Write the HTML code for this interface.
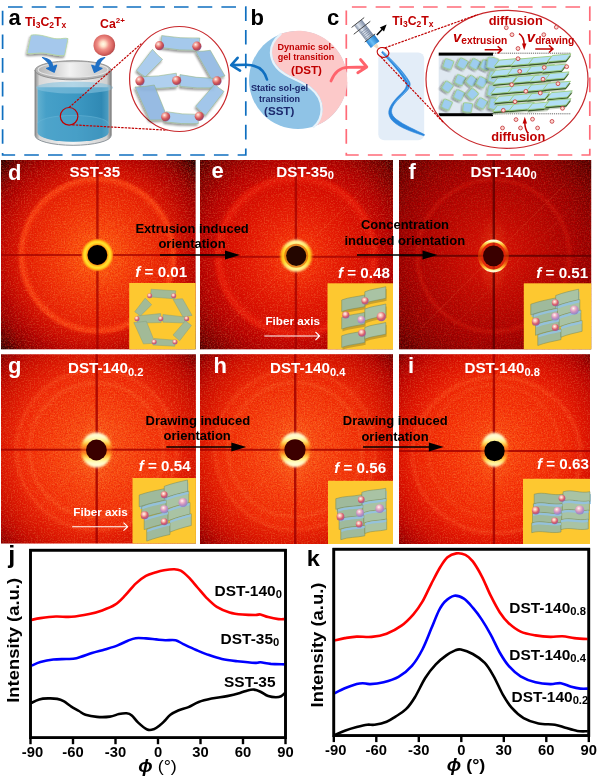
<!DOCTYPE html>
<html lang="en"><head><meta charset="utf-8"><title>Figure</title>
<style>html,body{margin:0;padding:0;background:#fff}body{width:600px;height:777px;overflow:hidden}svg{display:block}text{font-family:"Liberation Sans", Arial, Helvetica, sans-serif;font-weight:bold}</style>
</head><body>
<svg width="600" height="777" viewBox="0 0 600 777">
<defs>
<radialGradient id="gd" gradientUnits="userSpaceOnUse" cx="97.4" cy="255.0" r="140.0"><stop offset="0.000" stop-color="#ff6210"/><stop offset="0.129" stop-color="#fc560e"/><stop offset="0.250" stop-color="#f6420a"/><stop offset="0.393" stop-color="#ee3006"/><stop offset="0.500" stop-color="#e62404"/><stop offset="0.529" stop-color="#f2340a"/><stop offset="0.550" stop-color="#f4380c"/><stop offset="0.575" stop-color="#d41402"/><stop offset="0.643" stop-color="#c40c00"/><stop offset="0.714" stop-color="#b00400"/><stop offset="0.786" stop-color="#980000"/><stop offset="0.857" stop-color="#740000"/><stop offset="0.914" stop-color="#480000"/><stop offset="0.971" stop-color="#140000"/></radialGradient>
<radialGradient id="ge" gradientUnits="userSpaceOnUse" cx="296.2" cy="255.8" r="140.0"><stop offset="0.000" stop-color="#fa420c"/><stop offset="0.129" stop-color="#f43408"/><stop offset="0.250" stop-color="#ea2406"/><stop offset="0.393" stop-color="#de1602"/><stop offset="0.500" stop-color="#d40e00"/><stop offset="0.543" stop-color="#e01606"/><stop offset="0.571" stop-color="#dc1204"/><stop offset="0.600" stop-color="#c00600"/><stop offset="0.679" stop-color="#b00200"/><stop offset="0.750" stop-color="#9c0000"/><stop offset="0.821" stop-color="#840000"/><stop offset="0.893" stop-color="#680000"/><stop offset="0.971" stop-color="#3c0000"/></radialGradient>
<radialGradient id="gf" gradientUnits="userSpaceOnUse" cx="493.4" cy="255.8" r="140.0"><stop offset="0.000" stop-color="#d81806"/><stop offset="0.129" stop-color="#cc1004"/><stop offset="0.286" stop-color="#bc0a02"/><stop offset="0.429" stop-color="#ae0600"/><stop offset="0.557" stop-color="#a20200"/><stop offset="0.679" stop-color="#900000"/><stop offset="0.786" stop-color="#7c0000"/><stop offset="0.886" stop-color="#600000"/><stop offset="0.986" stop-color="#400000"/></radialGradient>
<radialGradient id="gg" gradientUnits="userSpaceOnUse" cx="96.4" cy="450.0" r="140.0"><stop offset="0.000" stop-color="#fc5e18"/><stop offset="0.129" stop-color="#fa5414"/><stop offset="0.286" stop-color="#f8460e"/><stop offset="0.443" stop-color="#f4380a"/><stop offset="0.543" stop-color="#f02e08"/><stop offset="0.586" stop-color="#e82606"/><stop offset="0.643" stop-color="#e01e04"/><stop offset="0.700" stop-color="#d61802"/><stop offset="0.771" stop-color="#c81000"/><stop offset="0.843" stop-color="#b40800"/><stop offset="0.914" stop-color="#940200"/><stop offset="0.986" stop-color="#640000"/></radialGradient>
<radialGradient id="gh" gradientUnits="userSpaceOnUse" cx="295.0" cy="449.8" r="140.0"><stop offset="0.000" stop-color="#fc5e18"/><stop offset="0.129" stop-color="#fa5414"/><stop offset="0.286" stop-color="#f8440e"/><stop offset="0.443" stop-color="#f23608"/><stop offset="0.543" stop-color="#ee2c06"/><stop offset="0.586" stop-color="#e62404"/><stop offset="0.643" stop-color="#de1c02"/><stop offset="0.700" stop-color="#d41600"/><stop offset="0.771" stop-color="#c60e00"/><stop offset="0.843" stop-color="#b00600"/><stop offset="0.914" stop-color="#900000"/><stop offset="0.986" stop-color="#600000"/></radialGradient>
<radialGradient id="gi" gradientUnits="userSpaceOnUse" cx="494.5" cy="451.0" r="140.0"><stop offset="0.000" stop-color="#fc5410"/><stop offset="0.129" stop-color="#fa4a0e"/><stop offset="0.286" stop-color="#f83c0a"/><stop offset="0.443" stop-color="#f23006"/><stop offset="0.543" stop-color="#ee2804"/><stop offset="0.586" stop-color="#e82004"/><stop offset="0.643" stop-color="#e01802"/><stop offset="0.700" stop-color="#d61200"/><stop offset="0.771" stop-color="#c80c00"/><stop offset="0.843" stop-color="#b40400"/><stop offset="0.914" stop-color="#940000"/><stop offset="0.986" stop-color="#640000"/></radialGradient>
<radialGradient id="halo"><stop offset="0.56" stop-color="#e86008"/><stop offset="0.64" stop-color="#ffb818"/><stop offset="0.74" stop-color="#ffe030"/><stop offset="0.82" stop-color="#ffd420"/><stop offset="0.91" stop-color="#ff9c14" stop-opacity="0.85"/><stop offset="1" stop-color="#ff6a10" stop-opacity="0"/></radialGradient>
<radialGradient id="halo2"><stop offset="0.55" stop-color="#ff9a10"/><stop offset="0.75" stop-color="#ffa818" stop-opacity="0.85"/><stop offset="1" stop-color="#ff5000" stop-opacity="0"/></radialGradient>
<linearGradient id="hv" x1="0" x2="0" y1="0" y2="1"><stop offset="0" stop-color="#fffbd8"/><stop offset="0.14" stop-color="#fffcc8"/><stop offset="0.24" stop-color="#fff080"/><stop offset="0.34" stop-color="#ffb830"/><stop offset="0.44" stop-color="#ff9020" stop-opacity="0.55"/><stop offset="0.5" stop-color="#ff8a18" stop-opacity="0.28"/><stop offset="0.56" stop-color="#ff9020" stop-opacity="0.55"/><stop offset="0.66" stop-color="#ffb830"/><stop offset="0.76" stop-color="#fff080"/><stop offset="0.86" stop-color="#fffcc8"/><stop offset="1" stop-color="#fffbd8"/></linearGradient>
<linearGradient id="hvi" x1="0" x2="0" y1="0" y2="1"><stop offset="0" stop-color="#fffbd8"/><stop offset="0.16" stop-color="#fffcc8"/><stop offset="0.26" stop-color="#fff080"/><stop offset="0.36" stop-color="#ffb830"/><stop offset="0.46" stop-color="#ff9020" stop-opacity="0.5"/><stop offset="0.55" stop-color="#ff8a18" stop-opacity="0.35"/><stop offset="0.66" stop-color="#ff9a20" stop-opacity="0.6"/><stop offset="0.76" stop-color="#ffc838"/><stop offset="0.87" stop-color="#fff290"/><stop offset="1" stop-color="#fffad0"/></linearGradient>
<linearGradient id="hvf" x1="0" x2="0" y1="0" y2="1"><stop offset="0" stop-color="#fffad0"/><stop offset="0.05" stop-color="#ffe870"/><stop offset="0.14" stop-color="#ffa828"/><stop offset="0.26" stop-color="#f06a12" stop-opacity="0.8"/><stop offset="0.4" stop-color="#e04808" stop-opacity="0.55"/><stop offset="0.6" stop-color="#e04808" stop-opacity="0.55"/><stop offset="0.74" stop-color="#f06a12" stop-opacity="0.8"/><stop offset="0.86" stop-color="#ffa828"/><stop offset="0.95" stop-color="#ffe870"/><stop offset="1" stop-color="#fffad0"/></linearGradient>
<radialGradient id="plume"><stop offset="0" stop-color="#ffa040" stop-opacity="0.55"/><stop offset="0.45" stop-color="#ff8030" stop-opacity="0.28"/><stop offset="1" stop-color="#ff7020" stop-opacity="0"/></radialGradient>
<linearGradient id="hve" x1="0" x2="0" y1="0" y2="1"><stop offset="0" stop-color="#fff8a8"/><stop offset="0.16" stop-color="#fff078"/><stop offset="0.3" stop-color="#ffd828"/><stop offset="0.5" stop-color="#ffc218"/><stop offset="0.7" stop-color="#ffd828"/><stop offset="0.84" stop-color="#fff078"/><stop offset="1" stop-color="#fff8a8"/></linearGradient>
<radialGradient id="blob"><stop offset="0" stop-color="#fffbe0"/><stop offset="0.45" stop-color="#fff080" stop-opacity="0.95"/><stop offset="0.8" stop-color="#ffc020" stop-opacity="0.6"/><stop offset="1" stop-color="#ff8000" stop-opacity="0"/></radialGradient>
<radialGradient id="sph" cx="0.4" cy="0.34" r="0.7"><stop offset="0" stop-color="#fffaf0"/><stop offset="0.3" stop-color="#f8b8b0"/><stop offset="0.62" stop-color="#d8606c"/><stop offset="0.85" stop-color="#b05a88"/><stop offset="1" stop-color="#8a6ab0"/></radialGradient>
<radialGradient id="sphb" cx="0.4" cy="0.32" r="0.7"><stop offset="0" stop-color="#fffafa"/><stop offset="0.3" stop-color="#f0b8c8"/><stop offset="0.6" stop-color="#c890c0"/><stop offset="1" stop-color="#8888c8"/></radialGradient>
<filter id="noise" x="0" y="0" width="100%" height="100%"><feTurbulence type="fractalNoise" baseFrequency="0.75" numOctaves="2" seed="3" result="n"/><feColorMatrix type="matrix" values="0 0 0 0 0.75  0 0 0 0 0  0 0 0 0 0  3.2 0 0 0 -1.3"/></filter>
<filter id="noise2" x="0" y="0" width="100%" height="100%"><feTurbulence type="fractalNoise" baseFrequency="0.7" numOctaves="2" seed="11" result="n"/><feColorMatrix type="matrix" values="0 0 0 0 1  0 0 0 0 0.62  0 0 0 0 0.2  3.2 0 0 0 -1.45"/></filter>
<filter id="blur05"><feGaussianBlur stdDeviation="0.5"/></filter>
<filter id="blur3" x="-20%" y="-20%" width="140%" height="140%"><feGaussianBlur stdDeviation="3"/></filter>
<filter id="blur1"><feGaussianBlur stdDeviation="0.8"/></filter>
<filter id="blur2"><feGaussianBlur stdDeviation="1.6"/></filter>
<filter id="sh" x="-20%" y="-20%" width="150%" height="150%"><feGaussianBlur in="SourceAlpha" stdDeviation="1.2"/><feOffset dx="-1.2" dy="1.5"/><feComponentTransfer><feFuncA type="linear" slope="0.45"/></feComponentTransfer><feMerge><feMergeNode/><feMergeNode in="SourceGraphic"/></feMerge></filter>
</defs>
<rect width="600" height="777" fill="#fff"/>
<rect x="2.6" y="7" width="243.2" height="148" fill="none" stroke="#0f6fc0" stroke-width="1.7" stroke-dasharray="14.6 9.11" stroke-dashoffset="-5.4"/>
<rect x="346.3" y="7" width="243.5" height="148" fill="none" stroke="#ff6b78" stroke-width="1.7" stroke-dasharray="14.6 9.13" stroke-dashoffset="-5.6"/>
<text x="8.5" y="25.0" font-size="22.0" fill="#000" text-anchor="start" >a</text>
<text x="250.5" y="24.5" font-size="22.0" fill="#000" text-anchor="start" >b</text>
<text x="327.0" y="25.0" font-size="22.0" fill="#000" text-anchor="start" >c</text>
<text x="25.0" y="25.6" font-size="12.3" fill="#c00000" text-anchor="start" >Ti<tspan font-size="8.5" dy="2.2">3</tspan><tspan dy="-2.2">C</tspan><tspan font-size="8.5" dy="2.2">2</tspan><tspan dy="-2.2">T</tspan><tspan font-size="8.5" dy="2.2">x</tspan></text>
<text x="392.2" y="24.7" font-size="12.3" fill="#c00000" text-anchor="start" >Ti<tspan font-size="8.5" dy="2.2">3</tspan><tspan dy="-2.2">C</tspan><tspan font-size="8.5" dy="2.2">2</tspan><tspan dy="-2.2">T</tspan><tspan font-size="8.5" dy="2.2">x</tspan></text>
<text x="100.0" y="27.5" font-size="12.3" fill="#c00000" text-anchor="start" >Ca<tspan font-size="8" dy="-4.5">2+</tspan></text>
<defs>
<linearGradient id="liq" x1="0" x2="1" y1="0" y2="0"><stop offset="0" stop-color="#62b0d0"/><stop offset="0.12" stop-color="#46a0c8"/><stop offset="0.55" stop-color="#3c98c2"/><stop offset="0.9" stop-color="#3089b4"/><stop offset="1" stop-color="#4e9ec2"/></linearGradient>
<linearGradient id="glass" x1="0" x2="1" y1="0" y2="0"><stop offset="0" stop-color="#8c8c8c"/><stop offset="0.06" stop-color="#d8d8d8"/><stop offset="0.5" stop-color="#f4f4f4"/><stop offset="0.94" stop-color="#d0d0d0"/><stop offset="1" stop-color="#808080"/></linearGradient>
<linearGradient id="rimin" x1="0" x2="1" y1="0" y2="0"><stop offset="0" stop-color="#b4b4b4"/><stop offset="0.45" stop-color="#f2f2f2"/><stop offset="1" stop-color="#c4c4c4"/></linearGradient>
<radialGradient id="ca" cx="0.45" cy="0.45" r="0.6"><stop offset="0" stop-color="#fffce8"/><stop offset="0.2" stop-color="#ffe0c8"/><stop offset="0.45" stop-color="#f09088"/><stop offset="0.75" stop-color="#d86460"/><stop offset="0.92" stop-color="#b84c4c"/><stop offset="1" stop-color="#8c3038"/></radialGradient>
<radialGradient id="ca2" cx="0.36" cy="0.32" r="0.72"><stop offset="0" stop-color="#fff4ec"/><stop offset="0.25" stop-color="#f4a8a0"/><stop offset="0.55" stop-color="#d85c5c"/><stop offset="0.82" stop-color="#b04458"/><stop offset="1" stop-color="#8468a0"/></radialGradient>
</defs>
<path d="M31 35.2C40 33.2 50 38.5 57 38.8C62 39 65 37.6 68 38.6L64.6 55.4C58 56.8 48 52.6 40 53C35 53.2 31 54.2 27 53.4Z" fill="#a5c8ec" stroke="#b4d69a" stroke-width="0.8" filter="url(#sh)"/>
<circle cx="104.3" cy="45.2" r="10.8" fill="url(#ca)"/>
<path d="M35 70V135.5A38.1 9.8 0 0 0 111.2 135.5V70Z" fill="url(#glass)"/>
<path d="M37.6 87.3V132.5A35.5 9.3 0 0 0 108.6 132.5V87.3Z" fill="url(#liq)"/>
<path d="M37.6 124A35.5 8.6 0 0 1 108.6 124V132.5A35.5 9.3 0 0 1 37.6 132.5Z" fill="#5cacd0" opacity="0.35"/>
<path d="M37.6 124A35.5 8.6 0 0 1 108.6 124" fill="none" stroke="#6cb8d8" stroke-width="0.7" opacity="0.7"/>
<ellipse cx="74.5" cy="87.6" rx="38.6" ry="6.0" fill="#86c2de" opacity="0.6"/>
<ellipse cx="73.1" cy="70.3" rx="38.1" ry="9.6" fill="#b4b4b4"/>
<ellipse cx="73.1" cy="70.3" rx="38.1" ry="9.6" fill="none" stroke="#8a8a8a" stroke-width="0.9"/>
<ellipse cx="73.1" cy="69.8" rx="35.0" ry="7.4" fill="url(#rimin)" stroke="#e4e4e4" stroke-width="1.1"/>
<path d="M35 70V135.5M111.2 70V135.5" stroke="#848484" stroke-width="0.9" fill="none"/>
<path d="M35 135.5A38.1 9.8 0 0 0 111.2 135.5" stroke="#8e969c" stroke-width="1" fill="none"/>
<path d="M42.5 57.6C49 58.5 52.5 62 52.6 66.5L56.6 65.2L54.2 72.2L46.6 68.4L50 67.3C49.6 63 46 60 42.5 57.6Z" fill="#1f70c6" stroke="#1f70c6" stroke-width="1.2" stroke-linejoin="round"/>
<path d="M104.8 57.6C98.5 58.5 96 62 95.8 66.5L91.8 65.2L94.4 72.4L102 68.4L98.6 67.3C99 63 101.5 60 104.8 57.6Z" fill="#1f70c6" stroke="#1f70c6" stroke-width="1.2" stroke-linejoin="round"/>
<circle cx="69.1" cy="116.3" r="8.8" fill="none" stroke="#c00000" stroke-width="1.2"/>
<path d="M69.1 107.5L141.3 43.6M72.3 124.8L167.5 130.2" fill="none" stroke="#c00000" stroke-width="1.2" stroke-dasharray="2.4 1.1"/>
<ellipse cx="179.4" cy="79" rx="49.8" ry="52.5" fill="#fff" stroke="#c8282c" stroke-width="1.2"/>
<path d="M161.7 35.6Q180.6 38.7 199.8 38.0L198.3 50.3Q179.4 50.8 160.8 47.5Z" fill="#9cc4ea" opacity="0.90" stroke="#8fb07a" stroke-width="0.6" filter="url(#sh)"/>
<path d="M152.5 49.3Q157.0 54.9 162.6 59.4L145.2 76.8Q140.5 74.0 136.4 70.4Z" fill="#a4c8ec" opacity="0.90" stroke="#8fb07a" stroke-width="0.6" filter="url(#sh)"/>
<path d="M195.6 51.2Q203.0 51.5 210.3 50.3L225.0 76.0Q218.2 78.0 211.2 78.7Z" fill="#90b8e2" opacity="0.90" stroke="#8fb07a" stroke-width="0.6" filter="url(#sh)"/>
<path d="M140.6 76.8Q158.6 76.8 176.3 73.2L177.3 87.0Q159.0 89.2 140.6 87.8Z" fill="#a8ccee" opacity="0.90" stroke="#8fb07a" stroke-width="0.6" filter="url(#sh)"/>
<path d="M180.0 74.6Q196.3 78.1 213.0 78.3L214.8 87.8Q197.3 88.8 180.0 86.4Z" fill="#9cc4ea" opacity="0.90" stroke="#8fb07a" stroke-width="0.6" filter="url(#sh)"/>
<path d="M135.0 87.0Q144.8 87.0 154.3 85.0L168.0 119.0Q159.0 120.4 149.8 120.0Z" fill="#8cb4e0" opacity="0.90" stroke="#8fb07a" stroke-width="0.6" filter="url(#sh)"/>
<path d="M214.8 84.2Q219.0 88.3 224.0 91.5L205.7 115.3Q200.2 111.3 195.6 106.2Z" fill="#98c0e8" opacity="0.90" stroke="#8fb07a" stroke-width="0.6" filter="url(#sh)"/>
<path d="M166.3 111.7Q182.2 114.7 198.3 114.4L198.3 123.6Q181.3 124.4 164.4 121.8Z" fill="#a4c8ec" opacity="0.90" stroke="#8fb07a" stroke-width="0.6" filter="url(#sh)"/>
<circle cx="159.5" cy="45.7" r="4.6" fill="url(#ca2)"/>
<circle cx="196.9" cy="46.2" r="4.6" fill="url(#ca2)"/>
<circle cx="140.0" cy="80.9" r="4.6" fill="url(#ca2)"/>
<circle cx="176.7" cy="80.5" r="4.6" fill="url(#ca2)"/>
<circle cx="217.0" cy="80.9" r="4.6" fill="url(#ca2)"/>
<circle cx="165.7" cy="116.8" r="4.6" fill="url(#ca2)"/>
<circle cx="199.3" cy="116.3" r="4.6" fill="url(#ca2)"/>
<circle cx="298" cy="80" r="49" fill="#8fc3e6"/>
<path d="M281.5 33.5C276 38 271.5 44 271.8 52C272.2 61 277.5 68.5 286 73.5C294 78.2 303 81 311 87C318 92.5 322.5 100 322.5 108.5C322.5 116 319.5 122 314.5 126.3A49 49 0 0 0 281.5 33.5Z" fill="#fcc9c9"/>
<path d="M281.5 33.5C276 38 271.5 44 271.8 52C272.2 61 277.5 68.5 286 73.5C294 78.2 303 81 311 87C318 92.5 322.5 100 322.5 108.5C322.5 116 319.5 122 314.5 126.3" fill="none" stroke="#e8f3fb" stroke-width="2.2" stroke-linecap="round" transform="translate(-0.9,0.7)"/>
<text x="305.8" y="49.6" font-size="9.1" fill="#c00000" text-anchor="middle" >Dynamic sol-</text>
<text x="306.0" y="60.0" font-size="9.0" fill="#c00000" text-anchor="middle" >gel transition</text>
<text x="306.5" y="74.0" font-size="11.6" fill="#c00000" text-anchor="middle" >(DST)</text>
<text x="279.5" y="91.0" font-size="9.2" fill="#1c2a6e" text-anchor="middle" >Static sol-gel</text>
<text x="279.5" y="101.6" font-size="9.0" fill="#1c2a6e" text-anchor="middle" >transition</text>
<text x="279.2" y="115.0" font-size="11.6" fill="#1c2a6e" text-anchor="middle" >(SST)</text>
<path d="M267 79.5C264.5 70 257 64.8 246 64.8L232 65.1M237.6 57.8L231.2 65.2L240 70.6" fill="none" stroke="#0f6fc0" stroke-width="2.6" stroke-linecap="round" stroke-linejoin="round"/>
<path d="M331 81C334.5 72 340 67.4 348 67.3L365.8 67M360.5 59.5L366.8 67L357.8 72.8" fill="none" stroke="#ff636c" stroke-width="2.8" stroke-linecap="round" stroke-linejoin="round"/>
<rect x="378.3" y="52.6" width="45.9" height="87.6" rx="6" fill="#e3edf8"/>
<path d="M382.6 51.2C392 60 404 72 409.4 81.5C413 88 403 94 396 102C390 109 390 114 396 119C404 125.5 416 130 424.5 134.6L424 135.8C414 132.5 400 128 393.2 121.5C386 114.5 388.5 108 394 101C400 93.5 408.5 88.5 406 83C401 73 390.5 62 381.6 52.4Z" fill="#2b86dc" stroke="#2b86dc" stroke-width="0.6"/>
<path d="M383 52.5C392 61 403 72.5 408 82C411 88.5 402 94.5 395 102.5" fill="none" stroke="#7cc0f4" stroke-width="0.8" opacity="0.8"/>
<g transform="translate(357.9,22.5) rotate(-38)">
<defs><linearGradient id="syr" x1="0" x2="1" y1="0" y2="0"><stop offset="0" stop-color="#8894a8"/><stop offset="0.35" stop-color="#dfe6f0"/><stop offset="1" stop-color="#7c8aa4"/></linearGradient><linearGradient id="syb" x1="0" x2="1" y1="0" y2="0"><stop offset="0" stop-color="#2a84d4"/><stop offset="0.4" stop-color="#6cc0f6"/><stop offset="1" stop-color="#1f78c8"/></linearGradient></defs>
<rect x="-4.8" y="0" width="9.6" height="19.6" fill="url(#syr)"/>
<rect x="-5.4" y="19.6" width="10.8" height="8.4" fill="url(#syb)"/>
<path d="M-2.2 28L2.2 28L1 32.5L-1 32.5Z" fill="#f2dcc4"/>
<path d="M-8 0H8M-10.5 6.7H10.5M-6.6 19.6H6.6" stroke="#444" stroke-width="0.9" fill="none"/>
<path d="M-4 10H4M-4 12H4M-4 14H4M-4 16H4M-4 18H4" stroke="#5a6a84" stroke-width="0.5" fill="none"/>
</g>
<path d="M376.8 35L383 28.4" stroke="#000" stroke-width="1.5" fill="none"/><path d="M386.6 24.6L379.8 27.6L384 31.6Z" fill="#000"/>
<ellipse cx="383" cy="52.4" rx="6" ry="4.8" fill="none" stroke="#c00000" stroke-width="1.1" transform="rotate(20 383 52.4)"/>
<ellipse cx="507" cy="79.3" rx="81" ry="69" fill="#fff" stroke="#c8282c" stroke-width="1.2"/>
<path d="M385 47.8L478 14.5M381 57L443 122" fill="none" stroke="#c00000" stroke-width="1.2" stroke-dasharray="2.4 1.1"/>
<clipPath id="cpc"><ellipse cx="507" cy="79.3" rx="80" ry="68"/></clipPath>
<g clip-path="url(#cpc)">
<rect x="438.7" y="55" width="56" height="58.5" fill="#dfe8f1"/>
<rect x="438.7" y="52.6" width="54.3" height="3" fill="#000"/>
<rect x="438.7" y="113.2" width="54.3" height="3" fill="#000"/>
<path d="M493 53.2H571M493 113.8H571" stroke="#555" stroke-width="0.9" stroke-dasharray="1.2 0.9" fill="none"/>
<g transform="translate(448.3,64.0) rotate(20)"><path d="M-4.6 -4.0Q0 -5.4 4.6 -4.2L4.1 4.6Q0 5.4 -4.1 4.6Z" fill="#9ecdf0" stroke="#9acb7c" stroke-width="0.9" filter="url(#sh)"/></g>
<g transform="translate(462.5,63.5) rotate(28)"><path d="M-4.6 -4.0Q0 -5.4 4.6 -4.2L4.1 4.6Q0 5.4 -4.1 4.6Z" fill="#9ecdf0" stroke="#9acb7c" stroke-width="0.9" filter="url(#sh)"/></g>
<g transform="translate(475.0,64.0) rotate(30)"><path d="M-4.6 -4.0Q0 -5.4 4.6 -4.2L4.1 4.6Q0 5.4 -4.1 4.6Z" fill="#9ecdf0" stroke="#9acb7c" stroke-width="0.9" filter="url(#sh)"/></g>
<g transform="translate(485.5,65.0) rotate(25)"><path d="M-4.6 -4.0Q0 -5.4 4.6 -4.2L4.1 4.6Q0 5.4 -4.1 4.6Z" fill="#9ecdf0" stroke="#9acb7c" stroke-width="0.9" filter="url(#sh)"/></g>
<g transform="translate(460.0,80.0) rotate(24)"><path d="M-4.6 -4.0Q0 -5.4 4.6 -4.2L4.1 4.6Q0 5.4 -4.1 4.6Z" fill="#9ecdf0" stroke="#9acb7c" stroke-width="0.9" filter="url(#sh)"/></g>
<g transform="translate(471.7,81.0) rotate(40)"><path d="M-4.6 -4.0Q0 -5.4 4.6 -4.2L4.1 4.6Q0 5.4 -4.1 4.6Z" fill="#9ecdf0" stroke="#9acb7c" stroke-width="0.9" filter="url(#sh)"/></g>
<g transform="translate(481.7,82.0) rotate(30)"><path d="M-4.6 -4.0Q0 -5.4 4.6 -4.2L4.1 4.6Q0 5.4 -4.1 4.6Z" fill="#9ecdf0" stroke="#9acb7c" stroke-width="0.9" filter="url(#sh)"/></g>
<g transform="translate(447.5,86.7) rotate(35)"><path d="M-4.6 -4.0Q0 -5.4 4.6 -4.2L4.1 4.6Q0 5.4 -4.1 4.6Z" fill="#9ecdf0" stroke="#9acb7c" stroke-width="0.9" filter="url(#sh)"/></g>
<g transform="translate(459.0,95.0) rotate(26)"><path d="M-4.6 -4.0Q0 -5.4 4.6 -4.2L4.1 4.6Q0 5.4 -4.1 4.6Z" fill="#9ecdf0" stroke="#9acb7c" stroke-width="0.9" filter="url(#sh)"/></g>
<g transform="translate(472.5,94.0) rotate(42)"><path d="M-4.6 -4.0Q0 -5.4 4.6 -4.2L4.1 4.6Q0 5.4 -4.1 4.6Z" fill="#9ecdf0" stroke="#9acb7c" stroke-width="0.9" filter="url(#sh)"/></g>
<g transform="translate(446.7,104.5) rotate(24)"><path d="M-4.6 -4.0Q0 -5.4 4.6 -4.2L4.1 4.6Q0 5.4 -4.1 4.6Z" fill="#9ecdf0" stroke="#9acb7c" stroke-width="0.9" filter="url(#sh)"/></g>
<g transform="translate(467.5,107.5) rotate(8)"><path d="M-4.6 -4.0Q0 -5.4 4.6 -4.2L4.1 4.6Q0 5.4 -4.1 4.6Z" fill="#9ecdf0" stroke="#9acb7c" stroke-width="0.9" filter="url(#sh)"/></g>
<g transform="translate(481.7,103.3) rotate(30)"><path d="M-4.6 -4.0Q0 -5.4 4.6 -4.2L4.1 4.6Q0 5.4 -4.1 4.6Z" fill="#9ecdf0" stroke="#9acb7c" stroke-width="0.9" filter="url(#sh)"/></g>
<g transform="translate(492.5,63.0) rotate(12)"><path d="M-5.4 -4.8Q0 -6.2 5.4 -5.0L4.9 5.4Q0 6.2 -4.9 5.4Z" fill="#9ecdf0" stroke="#9acb7c" stroke-width="0.9" filter="url(#sh)"/></g>
<g transform="translate(494.0,77.0) rotate(18)"><path d="M-5.4 -4.8Q0 -6.2 5.4 -5.0L4.9 5.4Q0 6.2 -4.9 5.4Z" fill="#9ecdf0" stroke="#9acb7c" stroke-width="0.9" filter="url(#sh)"/></g>
<g transform="translate(493.0,91.0) rotate(14)"><path d="M-5.4 -4.8Q0 -6.2 5.4 -5.0L4.9 5.4Q0 6.2 -4.9 5.4Z" fill="#9ecdf0" stroke="#9acb7c" stroke-width="0.9" filter="url(#sh)"/></g>
<g transform="translate(494.5,104.0) rotate(16)"><path d="M-5.4 -4.8Q0 -6.2 5.4 -5.0L4.9 5.4Q0 6.2 -4.9 5.4Z" fill="#9ecdf0" stroke="#9acb7c" stroke-width="0.9" filter="url(#sh)"/></g>
<path d="M494.3 66.4L515.6 64.6L520.6 58.3L499.3 60.1Z" fill="#b8c4b0" opacity="0.7" transform="translate(-0.6,3.2)"/>
<path d="M494.3 66.4L515.6 64.6L520.6 58.3L499.3 60.1Z" fill="#37562a" transform="translate(0.2,1.7)"/>
<path d="M494.3 66.4L515.6 64.6L520.6 58.3L499.3 60.1Z" fill="#b2dff5" stroke="#9acb7c" stroke-width="0.9"/>
<path d="M510.9 65.6L530.7 63.9L535.7 57.6L515.9 59.3Z" fill="#b8c4b0" opacity="0.7" transform="translate(-0.6,3.2)"/>
<path d="M510.9 65.6L530.7 63.9L535.7 57.6L515.9 59.3Z" fill="#37562a" transform="translate(0.2,1.7)"/>
<path d="M510.9 65.6L530.7 63.9L535.7 57.6L515.9 59.3Z" fill="#b2dff5" stroke="#9acb7c" stroke-width="0.9"/>
<path d="M528.4 64.0L546.6 62.5L551.6 56.2L533.4 57.7Z" fill="#b8c4b0" opacity="0.7" transform="translate(-0.6,3.2)"/>
<path d="M528.4 64.0L546.6 62.5L551.6 56.2L533.4 57.7Z" fill="#37562a" transform="translate(0.2,1.7)"/>
<path d="M528.4 64.0L546.6 62.5L551.6 56.2L533.4 57.7Z" fill="#b2dff5" stroke="#9acb7c" stroke-width="0.9"/>
<path d="M547.5 61.8L566.0 60.2L571.0 53.9L552.5 55.5Z" fill="#b8c4b0" opacity="0.7" transform="translate(-0.6,3.2)"/>
<path d="M547.5 61.8L566.0 60.2L571.0 53.9L552.5 55.5Z" fill="#37562a" transform="translate(0.2,1.7)"/>
<path d="M547.5 61.8L566.0 60.2L571.0 53.9L552.5 55.5Z" fill="#b2dff5" stroke="#9acb7c" stroke-width="0.9"/>
<path d="M490.7 76.5L509.3 74.9L514.3 68.6L495.7 70.2Z" fill="#b8c4b0" opacity="0.7" transform="translate(-0.6,3.2)"/>
<path d="M490.7 76.5L509.3 74.9L514.3 68.6L495.7 70.2Z" fill="#37562a" transform="translate(0.2,1.7)"/>
<path d="M490.7 76.5L509.3 74.9L514.3 68.6L495.7 70.2Z" fill="#b2dff5" stroke="#9acb7c" stroke-width="0.9"/>
<path d="M507.5 74.7L530.2 72.8L535.2 66.5L512.5 68.4Z" fill="#b8c4b0" opacity="0.7" transform="translate(-0.6,3.2)"/>
<path d="M507.5 74.7L530.2 72.8L535.2 66.5L512.5 68.4Z" fill="#37562a" transform="translate(0.2,1.7)"/>
<path d="M507.5 74.7L530.2 72.8L535.2 66.5L512.5 68.4Z" fill="#b2dff5" stroke="#9acb7c" stroke-width="0.9"/>
<path d="M526.5 72.8L549.4 70.9L554.4 64.6L531.5 66.5Z" fill="#b8c4b0" opacity="0.7" transform="translate(-0.6,3.2)"/>
<path d="M526.5 72.8L549.4 70.9L554.4 64.6L531.5 66.5Z" fill="#37562a" transform="translate(0.2,1.7)"/>
<path d="M526.5 72.8L549.4 70.9L554.4 64.6L531.5 66.5Z" fill="#b2dff5" stroke="#9acb7c" stroke-width="0.9"/>
<path d="M542.0 72.1L561.4 70.4L566.4 64.1L547.0 65.8Z" fill="#b8c4b0" opacity="0.7" transform="translate(-0.6,3.2)"/>
<path d="M542.0 72.1L561.4 70.4L566.4 64.1L547.0 65.8Z" fill="#37562a" transform="translate(0.2,1.7)"/>
<path d="M542.0 72.1L561.4 70.4L566.4 64.1L547.0 65.8Z" fill="#b2dff5" stroke="#9acb7c" stroke-width="0.9"/>
<path d="M492.6 84.4L512.1 82.7L517.1 76.4L497.6 78.1Z" fill="#b8c4b0" opacity="0.7" transform="translate(-0.6,3.2)"/>
<path d="M492.6 84.4L512.1 82.7L517.1 76.4L497.6 78.1Z" fill="#37562a" transform="translate(0.2,1.7)"/>
<path d="M492.6 84.4L512.1 82.7L517.1 76.4L497.6 78.1Z" fill="#b2dff5" stroke="#9acb7c" stroke-width="0.9"/>
<path d="M512.9 83.0L533.8 81.2L538.8 74.9L517.9 76.7Z" fill="#b8c4b0" opacity="0.7" transform="translate(-0.6,3.2)"/>
<path d="M512.9 83.0L533.8 81.2L538.8 74.9L517.9 76.7Z" fill="#37562a" transform="translate(0.2,1.7)"/>
<path d="M512.9 83.0L533.8 81.2L538.8 74.9L517.9 76.7Z" fill="#b2dff5" stroke="#9acb7c" stroke-width="0.9"/>
<path d="M529.8 81.8L550.5 80.0L555.5 73.7L534.8 75.5Z" fill="#b8c4b0" opacity="0.7" transform="translate(-0.6,3.2)"/>
<path d="M529.8 81.8L550.5 80.0L555.5 73.7L534.8 75.5Z" fill="#37562a" transform="translate(0.2,1.7)"/>
<path d="M529.8 81.8L550.5 80.0L555.5 73.7L534.8 75.5Z" fill="#b2dff5" stroke="#9acb7c" stroke-width="0.9"/>
<path d="M545.1 79.8L564.1 78.2L569.1 71.9L550.1 73.5Z" fill="#b8c4b0" opacity="0.7" transform="translate(-0.6,3.2)"/>
<path d="M545.1 79.8L564.1 78.2L569.1 71.9L550.1 73.5Z" fill="#37562a" transform="translate(0.2,1.7)"/>
<path d="M545.1 79.8L564.1 78.2L569.1 71.9L550.1 73.5Z" fill="#b2dff5" stroke="#9acb7c" stroke-width="0.9"/>
<path d="M490.7 93.9L510.3 92.2L515.3 85.9L495.7 87.6Z" fill="#b8c4b0" opacity="0.7" transform="translate(-0.6,3.2)"/>
<path d="M490.7 93.9L510.3 92.2L515.3 85.9L495.7 87.6Z" fill="#37562a" transform="translate(0.2,1.7)"/>
<path d="M490.7 93.9L510.3 92.2L515.3 85.9L495.7 87.6Z" fill="#b2dff5" stroke="#9acb7c" stroke-width="0.9"/>
<path d="M507.9 92.4L527.4 90.8L532.4 84.5L512.9 86.1Z" fill="#b8c4b0" opacity="0.7" transform="translate(-0.6,3.2)"/>
<path d="M507.9 92.4L527.4 90.8L532.4 84.5L512.9 86.1Z" fill="#37562a" transform="translate(0.2,1.7)"/>
<path d="M507.9 92.4L527.4 90.8L532.4 84.5L512.9 86.1Z" fill="#b2dff5" stroke="#9acb7c" stroke-width="0.9"/>
<path d="M526.4 91.3L545.6 89.7L550.6 83.4L531.4 85.0Z" fill="#b8c4b0" opacity="0.7" transform="translate(-0.6,3.2)"/>
<path d="M526.4 91.3L545.6 89.7L550.6 83.4L531.4 85.0Z" fill="#37562a" transform="translate(0.2,1.7)"/>
<path d="M526.4 91.3L545.6 89.7L550.6 83.4L531.4 85.0Z" fill="#b2dff5" stroke="#9acb7c" stroke-width="0.9"/>
<path d="M543.1 89.5L565.5 87.6L570.5 81.3L548.1 83.2Z" fill="#b8c4b0" opacity="0.7" transform="translate(-0.6,3.2)"/>
<path d="M543.1 89.5L565.5 87.6L570.5 81.3L548.1 83.2Z" fill="#37562a" transform="translate(0.2,1.7)"/>
<path d="M543.1 89.5L565.5 87.6L570.5 81.3L548.1 83.2Z" fill="#b2dff5" stroke="#9acb7c" stroke-width="0.9"/>
<path d="M493.9 102.7L516.8 100.7L521.8 94.4L498.9 96.4Z" fill="#b8c4b0" opacity="0.7" transform="translate(-0.6,3.2)"/>
<path d="M493.9 102.7L516.8 100.7L521.8 94.4L498.9 96.4Z" fill="#37562a" transform="translate(0.2,1.7)"/>
<path d="M493.9 102.7L516.8 100.7L521.8 94.4L498.9 96.4Z" fill="#b2dff5" stroke="#9acb7c" stroke-width="0.9"/>
<path d="M509.1 101.4L530.9 99.5L535.9 93.2L514.1 95.1Z" fill="#b8c4b0" opacity="0.7" transform="translate(-0.6,3.2)"/>
<path d="M509.1 101.4L530.9 99.5L535.9 93.2L514.1 95.1Z" fill="#37562a" transform="translate(0.2,1.7)"/>
<path d="M509.1 101.4L530.9 99.5L535.9 93.2L514.1 95.1Z" fill="#b2dff5" stroke="#9acb7c" stroke-width="0.9"/>
<path d="M526.8 100.0L545.0 98.4L550.0 92.1L531.8 93.7Z" fill="#b8c4b0" opacity="0.7" transform="translate(-0.6,3.2)"/>
<path d="M526.8 100.0L545.0 98.4L550.0 92.1L531.8 93.7Z" fill="#37562a" transform="translate(0.2,1.7)"/>
<path d="M526.8 100.0L545.0 98.4L550.0 92.1L531.8 93.7Z" fill="#b2dff5" stroke="#9acb7c" stroke-width="0.9"/>
<path d="M546.5 98.9L567.3 97.1L572.3 90.8L551.5 92.6Z" fill="#b8c4b0" opacity="0.7" transform="translate(-0.6,3.2)"/>
<path d="M546.5 98.9L567.3 97.1L572.3 90.8L551.5 92.6Z" fill="#37562a" transform="translate(0.2,1.7)"/>
<path d="M546.5 98.9L567.3 97.1L572.3 90.8L551.5 92.6Z" fill="#b2dff5" stroke="#9acb7c" stroke-width="0.9"/>
<path d="M492.5 111.7L514.0 109.9L519.0 103.6L497.5 105.4Z" fill="#b8c4b0" opacity="0.7" transform="translate(-0.6,3.2)"/>
<path d="M492.5 111.7L514.0 109.9L519.0 103.6L497.5 105.4Z" fill="#37562a" transform="translate(0.2,1.7)"/>
<path d="M492.5 111.7L514.0 109.9L519.0 103.6L497.5 105.4Z" fill="#b2dff5" stroke="#9acb7c" stroke-width="0.9"/>
<path d="M509.0 110.6L529.3 108.9L534.3 102.6L514.0 104.3Z" fill="#b8c4b0" opacity="0.7" transform="translate(-0.6,3.2)"/>
<path d="M509.0 110.6L529.3 108.9L534.3 102.6L514.0 104.3Z" fill="#37562a" transform="translate(0.2,1.7)"/>
<path d="M509.0 110.6L529.3 108.9L534.3 102.6L514.0 104.3Z" fill="#b2dff5" stroke="#9acb7c" stroke-width="0.9"/>
<path d="M527.6 109.7L547.9 108.0L552.9 101.7L532.6 103.4Z" fill="#b8c4b0" opacity="0.7" transform="translate(-0.6,3.2)"/>
<path d="M527.6 109.7L547.9 108.0L552.9 101.7L532.6 103.4Z" fill="#37562a" transform="translate(0.2,1.7)"/>
<path d="M527.6 109.7L547.9 108.0L552.9 101.7L532.6 103.4Z" fill="#b2dff5" stroke="#9acb7c" stroke-width="0.9"/>
<path d="M544.5 106.8L566.0 105.0L571.0 98.7L549.5 100.5Z" fill="#b8c4b0" opacity="0.7" transform="translate(-0.6,3.2)"/>
<path d="M544.5 106.8L566.0 105.0L571.0 98.7L549.5 100.5Z" fill="#37562a" transform="translate(0.2,1.7)"/>
<path d="M544.5 106.8L566.0 105.0L571.0 98.7L549.5 100.5Z" fill="#b2dff5" stroke="#9acb7c" stroke-width="0.9"/>
</g>
<circle cx="506.3" cy="27.7" r="1.9" fill="#fcd8d0" stroke="#c8444a" stroke-width="0.9"/>
<circle cx="512.0" cy="34.7" r="1.9" fill="#fcd8d0" stroke="#c8444a" stroke-width="0.9"/>
<circle cx="518.0" cy="48.5" r="1.9" fill="#fcd8d0" stroke="#c8444a" stroke-width="0.9"/>
<circle cx="543.8" cy="34.7" r="1.9" fill="#fcd8d0" stroke="#c8444a" stroke-width="0.9"/>
<circle cx="556.3" cy="27.2" r="1.9" fill="#fcd8d0" stroke="#c8444a" stroke-width="0.9"/>
<circle cx="518.0" cy="58.7" r="1.9" fill="#fcd8d0" stroke="#c8444a" stroke-width="0.9"/>
<circle cx="519.7" cy="71.3" r="1.9" fill="#fcd8d0" stroke="#c8444a" stroke-width="0.9"/>
<circle cx="511.7" cy="84.7" r="1.9" fill="#fcd8d0" stroke="#c8444a" stroke-width="0.9"/>
<circle cx="525.8" cy="91.3" r="1.9" fill="#fcd8d0" stroke="#c8444a" stroke-width="0.9"/>
<circle cx="543.0" cy="79.2" r="1.9" fill="#fcd8d0" stroke="#c8444a" stroke-width="0.9"/>
<circle cx="540.3" cy="93.0" r="1.9" fill="#fcd8d0" stroke="#c8444a" stroke-width="0.9"/>
<circle cx="558.0" cy="83.7" r="1.9" fill="#fcd8d0" stroke="#c8444a" stroke-width="0.9"/>
<circle cx="566.7" cy="66.7" r="1.9" fill="#fcd8d0" stroke="#c8444a" stroke-width="0.9"/>
<circle cx="544.2" cy="67.5" r="1.9" fill="#fcd8d0" stroke="#c8444a" stroke-width="0.9"/>
<circle cx="562.5" cy="108.3" r="1.9" fill="#fcd8d0" stroke="#c8444a" stroke-width="0.9"/>
<circle cx="503.3" cy="110.3" r="1.9" fill="#fcd8d0" stroke="#c8444a" stroke-width="0.9"/>
<circle cx="515.0" cy="101.7" r="1.9" fill="#fcd8d0" stroke="#c8444a" stroke-width="0.9"/>
<circle cx="516.0" cy="119.6" r="1.9" fill="#fcd8d0" stroke="#c8444a" stroke-width="0.9"/>
<circle cx="532.5" cy="119.2" r="1.9" fill="#fcd8d0" stroke="#c8444a" stroke-width="0.9"/>
<circle cx="552.0" cy="121.4" r="1.9" fill="#fcd8d0" stroke="#c8444a" stroke-width="0.9"/>
<circle cx="502.5" cy="128.0" r="1.9" fill="#fcd8d0" stroke="#c8444a" stroke-width="0.9"/>
<circle cx="520.5" cy="128.0" r="1.9" fill="#fcd8d0" stroke="#c8444a" stroke-width="0.9"/>
<circle cx="537.6" cy="128.0" r="1.9" fill="#fcd8d0" stroke="#c8444a" stroke-width="0.9"/>
<text x="488.7" y="25.4" font-size="12.8" fill="#c00000" text-anchor="start" >diffusion</text>
<text x="491.2" y="141.3" font-size="12.8" fill="#c00000" text-anchor="start" >diffusion</text>
<text x="453.0" y="42.2" font-size="15.0" fill="#c00000" text-anchor="start" ><tspan font-style="italic">v</tspan><tspan font-size="10.2" dy="1.6">extrusion</tspan></text>
<text x="526.8" y="41.6" font-size="15.0" fill="#c00000" text-anchor="start" ><tspan font-style="italic">v</tspan><tspan font-size="10.2" dy="2">drawing</tspan></text>
<path d="M484.7 49.8H501.7M497.7 46.2L501.7 49.8L497.7 53.4" fill="none" stroke="#c00000" stroke-width="1.5"/>
<path d="M535.3 48.9H553.0M549.0 45.3L553.0 48.9L549.0 52.5" fill="none" stroke="#c00000" stroke-width="1.5"/>
<path d="M519 33.6C523 36 524.2 40 524.2 45" fill="none" stroke="#c00000" stroke-width="1.5"/><path d="M524.2 50.2L522 43.6L526.4 43.6Z" fill="#c00000"/>
<path d="M528.2 133.4C525.4 130 524.8 126 524.8 122" fill="none" stroke="#c00000" stroke-width="1.5"/><path d="M524.8 116.8L522.6 123.4L527 123.4Z" fill="#c00000"/>
<g id="panel-d">
<clipPath id="cpd"><rect x="1.0" y="160.0" width="194.6" height="189.3"/></clipPath>
<rect x="1.0" y="160.0" width="194.6" height="189.3" fill="url(#gd)"/>
<g clip-path="url(#cpd)">
<ellipse cx="97.4" cy="255.0" rx="76.0" ry="76.0" fill="none" stroke="#ff6428" stroke-width="3.4" opacity="0.32" filter="url(#blur2)"/>
<rect x="1.0" y="160.0" width="194.6" height="189.3" fill="#000" opacity="0.34" filter="url(#noise)"/>
<rect x="1.0" y="160.0" width="194.6" height="189.3" fill="#000" opacity="0.20" filter="url(#noise2)"/>
<path d="M25.4 327.0L169.4 183.0" stroke="#ffa060" stroke-width="0.9" opacity="0.16"/>
<path d="M47.4 335.0L177.4 205.0" stroke="#ffa060" stroke-width="0.8" opacity="0.10"/>
<rect x="96.2" y="160.0" width="2.4" height="189.3" fill="#a00000" opacity="0.72"/>
<rect x="1.0" y="254.0" width="194.6" height="2.0" fill="#a00000" opacity="0.72"/>
<ellipse cx="97.4" cy="255.0" rx="16.6" ry="16.9" fill="url(#halo)"/>
<circle cx="97.4" cy="255.0" r="9.9" fill="#000"/>
</g></g>
<g id="panel-e">
<clipPath id="cpe"><rect x="200.0" y="160.0" width="193.0" height="189.3"/></clipPath>
<rect x="200.0" y="160.0" width="193.0" height="189.3" fill="url(#ge)"/>
<g clip-path="url(#cpe)">
<ellipse cx="296.2" cy="255.8" rx="78.0" ry="78.0" fill="none" stroke="#ff4a20" stroke-width="3.4" opacity="0.22" filter="url(#blur2)"/>
<rect x="200.0" y="160.0" width="193.0" height="189.3" fill="#000" opacity="0.34" filter="url(#noise)"/>
<rect x="200.0" y="160.0" width="193.0" height="189.3" fill="#000" opacity="0.20" filter="url(#noise2)"/>
<path d="M224.2 327.8L368.2 183.8" stroke="#ffa060" stroke-width="0.9" opacity="0.16"/>
<path d="M246.2 335.8L376.2 205.8" stroke="#ffa060" stroke-width="0.8" opacity="0.10"/>
<rect x="294.7" y="160.0" width="2.4" height="189.3" fill="#a00000" opacity="0.72"/>
<rect x="200.0" y="255.8" width="193.0" height="2.0" fill="#a00000" opacity="0.72"/>
<ellipse cx="296.2" cy="255.8" rx="15.6" ry="16.0" fill="url(#hve)" filter="url(#blur1)"/>
<circle cx="296.2" cy="255.8" r="11.0" fill="none" stroke="#e06a10" stroke-width="2.0" opacity="0.75" filter="url(#blur05)"/>
<circle cx="296.2" cy="255.8" r="10.1" fill="#240600"/>
</g></g>
<g id="panel-f">
<clipPath id="cpf"><rect x="399.0" y="160.0" width="192.2" height="189.3"/></clipPath>
<rect x="399.0" y="160.0" width="192.2" height="189.3" fill="url(#gf)"/>
<g clip-path="url(#cpf)">
<ellipse cx="493.4" cy="255.8" rx="76.0" ry="76.0" fill="none" stroke="#e82a18" stroke-width="3.4" opacity="0.36" filter="url(#blur2)"/>
<ellipse cx="493.4" cy="255.8" rx="16.0" ry="42.0" fill="url(#plume)" opacity="0.70"/>
<rect x="399.0" y="160.0" width="192.2" height="189.3" fill="#000" opacity="0.34" filter="url(#noise)"/>
<rect x="399.0" y="160.0" width="192.2" height="189.3" fill="#000" opacity="0.12" filter="url(#noise2)"/>
<path d="M421.4 327.8L565.4 183.8" stroke="#ffa060" stroke-width="0.9" opacity="0.16"/>
<path d="M443.4 335.8L573.4 205.8" stroke="#ffa060" stroke-width="0.8" opacity="0.10"/>
<rect x="492.6" y="160.0" width="2.4" height="189.3" fill="#600000" opacity="0.82"/>
<rect x="399.0" y="254.8" width="192.2" height="2.0" fill="#600000" opacity="0.82"/>
<ellipse cx="493.4" cy="255.8" rx="12.6" ry="13.4" fill="#e42a0a" opacity="0.7"/>
<ellipse cx="493.4" cy="256.0" rx="13.9" ry="14.9" fill="none" stroke="url(#hvf)" stroke-width="3.0" filter="url(#blur05)"/>
<circle cx="493.4" cy="255.8" r="10.4" fill="#3a0000"/>
</g></g>
<g id="panel-g">
<clipPath id="cpg"><rect x="1.0" y="354.3" width="194.9" height="189.2"/></clipPath>
<rect x="1.0" y="354.3" width="194.9" height="189.2" fill="url(#gg)"/>
<g clip-path="url(#cpg)">
<ellipse cx="96.4" cy="450.0" rx="67.0" ry="67.0" fill="none" stroke="#ff7434" stroke-width="3.4" opacity="0.36" filter="url(#blur2)"/>
<ellipse cx="96.4" cy="450.0" rx="20.0" ry="46.0" fill="url(#plume)" opacity="0.80"/>
<ellipse cx="96.4" cy="450.0" rx="80.0" ry="80.0" fill="none" stroke="#ff642c" stroke-width="3" opacity="0.44" filter="url(#blur2)"/>
<rect x="1.0" y="354.3" width="194.9" height="189.2" fill="#000" opacity="0.34" filter="url(#noise)"/>
<rect x="1.0" y="354.3" width="194.9" height="189.2" fill="#000" opacity="0.20" filter="url(#noise2)"/>
<path d="M24.4 522.0L168.4 378.0" stroke="#ffa060" stroke-width="0.9" opacity="0.16"/>
<path d="M46.4 530.0L176.4 400.0" stroke="#ffa060" stroke-width="0.8" opacity="0.10"/>
<rect x="95.5" y="354.3" width="2.4" height="189.2" fill="#a00000" opacity="0.82"/>
<rect x="1.0" y="448.7" width="194.9" height="2.0" fill="#a00000" opacity="0.82"/>
<ellipse cx="96.4" cy="450.0" rx="15.6" ry="17.6" fill="url(#hv)" filter="url(#blur1)"/>
<circle cx="96.4" cy="450.0" r="10.4" fill="#3a0000"/>
</g></g>
<g id="panel-h">
<clipPath id="cph"><rect x="200.0" y="354.2" width="193.0" height="189.8"/></clipPath>
<rect x="200.0" y="354.2" width="193.0" height="189.8" fill="url(#gh)"/>
<g clip-path="url(#cph)">
<ellipse cx="295.0" cy="449.8" rx="67.0" ry="67.0" fill="none" stroke="#ff7434" stroke-width="3.4" opacity="0.30" filter="url(#blur2)"/>
<ellipse cx="295.0" cy="449.8" rx="20.0" ry="46.0" fill="url(#plume)" opacity="0.80"/>
<ellipse cx="295.0" cy="449.8" rx="80.0" ry="80.0" fill="none" stroke="#ff642c" stroke-width="3" opacity="0.38" filter="url(#blur2)"/>
<rect x="200.0" y="354.2" width="193.0" height="189.8" fill="#000" opacity="0.34" filter="url(#noise)"/>
<rect x="200.0" y="354.2" width="193.0" height="189.8" fill="#000" opacity="0.20" filter="url(#noise2)"/>
<path d="M223.0 521.8L367.0 377.8" stroke="#ffa060" stroke-width="0.9" opacity="0.16"/>
<path d="M245.0 529.8L375.0 399.8" stroke="#ffa060" stroke-width="0.8" opacity="0.10"/>
<rect x="294.0" y="354.2" width="2.4" height="189.8" fill="#a00000" opacity="0.82"/>
<rect x="200.0" y="448.8" width="193.0" height="2.0" fill="#a00000" opacity="0.82"/>
<ellipse cx="295.0" cy="449.8" rx="15.4" ry="17.4" fill="url(#hv)" filter="url(#blur1)"/>
<circle cx="295.0" cy="449.8" r="10.6" fill="#3c0000"/>
</g></g>
<g id="panel-i">
<clipPath id="cpi"><rect x="399.0" y="354.2" width="191.0" height="189.8"/></clipPath>
<rect x="399.0" y="354.2" width="191.0" height="189.8" fill="url(#gi)"/>
<g clip-path="url(#cpi)">
<ellipse cx="494.5" cy="451.0" rx="66.0" ry="66.0" fill="none" stroke="#ff6c30" stroke-width="3.4" opacity="0.22" filter="url(#blur2)"/>
<ellipse cx="494.5" cy="451.0" rx="18.0" ry="44.0" fill="url(#plume)" opacity="0.70"/>
<ellipse cx="496.5" cy="455.0" rx="84.0" ry="78.0" fill="none" stroke="#ff642c" stroke-width="3" opacity="0.46" filter="url(#blur2)"/>
<rect x="399.0" y="354.2" width="191.0" height="189.8" fill="#000" opacity="0.34" filter="url(#noise)"/>
<rect x="399.0" y="354.2" width="191.0" height="189.8" fill="#000" opacity="0.20" filter="url(#noise2)"/>
<path d="M422.5 523.0L566.5 379.0" stroke="#ffa060" stroke-width="0.9" opacity="0.16"/>
<path d="M444.5 531.0L574.5 401.0" stroke="#ffa060" stroke-width="0.8" opacity="0.10"/>
<rect x="492.7" y="354.2" width="2.4" height="189.8" fill="#a00000" opacity="0.82"/>
<rect x="399.0" y="450.0" width="191.0" height="2.0" fill="#a00000" opacity="0.82"/>
<ellipse cx="494.5" cy="449.8" rx="13.8" ry="17.0" fill="url(#hvi)" filter="url(#blur1)"/>
<circle cx="494.5" cy="451.0" r="10.2" fill="#000"/>
</g></g>
<rect x="129.2" y="283.0" width="66.4" height="66.3" fill="#fdc830"/>
<rect x="327.5" y="283.3" width="65.5" height="66.0" fill="#fdc830"/>
<rect x="523.8" y="283.3" width="67.4" height="66.0" fill="#fdc830"/>
<rect x="132.5" y="478.0" width="63.4" height="65.5" fill="#fdc830"/>
<rect x="328.0" y="480.8" width="65.0" height="63.2" fill="#fdc830"/>
<rect x="523.0" y="478.8" width="67.0" height="65.2" fill="#fdc830"/>
<g transform="translate(149.7,295.8) scale(0.647) translate(-159.5,-45.7)">
<path d="M161.7 35.6L199.8 38.0L198.3 50.3L160.8 47.5Z" fill="#9fba9c" stroke="#86a07c" stroke-width="0.8" opacity="0.96"/>
<path d="M152.5 49.3L162.6 59.4L145.2 76.8L136.4 70.4Z" fill="#9fba9c" stroke="#86a07c" stroke-width="0.8" opacity="0.96"/>
<path d="M195.6 51.2L210.3 50.3L225.0 76.0L211.2 78.7Z" fill="#9fba9c" stroke="#86a07c" stroke-width="0.8" opacity="0.96"/>
<path d="M140.6 76.8L176.3 73.2L177.3 87.0L140.6 87.8Z" fill="#9fba9c" stroke="#86a07c" stroke-width="0.8" opacity="0.96"/>
<path d="M180.0 74.6L213.0 78.3L214.8 87.8L180.0 86.4Z" fill="#9fba9c" stroke="#86a07c" stroke-width="0.8" opacity="0.96"/>
<path d="M135.0 87.0L154.3 85.0L168.0 119.0L149.8 120.0Z" fill="#9fba9c" stroke="#86a07c" stroke-width="0.8" opacity="0.96"/>
<path d="M214.8 84.2L224.0 91.5L205.7 115.3L195.6 106.2Z" fill="#9fba9c" stroke="#86a07c" stroke-width="0.8" opacity="0.96"/>
<path d="M166.3 111.7L198.3 114.4L198.3 123.6L164.4 121.8Z" fill="#9fba9c" stroke="#86a07c" stroke-width="0.8" opacity="0.96"/>
</g>
<circle cx="149.7" cy="295.8" r="2.5" fill="url(#sph)"/>
<circle cx="173.7" cy="295.8" r="2.5" fill="url(#sph)"/>
<circle cx="137.0" cy="318.7" r="2.5" fill="url(#sph)"/>
<circle cx="160.8" cy="318.7" r="2.5" fill="url(#sph)"/>
<circle cx="186.7" cy="318.7" r="2.5" fill="url(#sph)"/>
<circle cx="154.2" cy="342.0" r="2.5" fill="url(#sph)"/>
<circle cx="175.0" cy="342.0" r="2.5" fill="url(#sph)"/>
<path d="M341.7 300.0C349.8 297.0 355.5 297.1 364.8 295.0L364.8 306.6C355.5 308.7 349.8 308.6 341.7 311.6Z M364.8 291.8C372.1 288.8 377.4 288.8 385.8 286.7L385.8 298.3C377.4 300.4 372.1 300.4 364.8 303.4Z" fill="#c8a02c" transform="translate(0.8,2.4)"/>
<path d="M341.7 300.0C349.8 297.0 355.5 297.1 364.8 295.0L364.8 306.6C355.5 308.7 349.8 308.6 341.7 311.6Z" fill="#9fba9c" stroke="#74885a" stroke-width="0.5"/>
<path d="M364.8 291.8C372.1 288.8 377.4 288.8 385.8 286.7L385.8 298.3C377.4 300.4 372.1 300.4 364.8 303.4Z" fill="#a9c3a4" stroke="#74885a" stroke-width="0.5"/>
<path d="M341.7 317.5C349.8 314.5 355.5 314.5 364.8 312.4L364.8 324.0C355.5 326.1 349.8 326.1 341.7 329.1Z M364.8 309.1C372.1 306.1 377.4 306.1 385.8 304.0L385.8 315.6C377.4 317.7 372.1 317.8 364.8 320.8Z" fill="#c8a02c" transform="translate(0.8,2.4)"/>
<path d="M341.7 317.5C349.8 314.5 355.5 314.5 364.8 312.4L364.8 324.0C355.5 326.1 349.8 326.1 341.7 329.1Z" fill="#9fba9c" stroke="#74885a" stroke-width="0.5"/>
<path d="M364.8 309.1C372.1 306.1 377.4 306.1 385.8 304.0L385.8 315.6C377.4 317.7 372.1 317.8 364.8 320.8Z" fill="#a9c3a4" stroke="#74885a" stroke-width="0.5"/>
<path d="M341.7 335.8C349.8 332.8 355.5 332.9 364.8 330.8L364.8 342.4C355.5 344.5 349.8 344.4 341.7 347.4Z M364.8 327.5C372.1 324.5 377.4 324.6 385.8 322.5L385.8 334.1C377.4 336.2 372.1 336.1 364.8 339.1Z" fill="#c8a02c" transform="translate(0.8,2.4)"/>
<path d="M341.7 335.8C349.8 332.8 355.5 332.9 364.8 330.8L364.8 342.4C355.5 344.5 349.8 344.4 341.7 347.4Z" fill="#9fba9c" stroke="#74885a" stroke-width="0.5"/>
<path d="M364.8 327.5C372.1 324.5 377.4 324.6 385.8 322.5L385.8 334.1C377.4 336.2 372.1 336.1 364.8 339.1Z" fill="#a9c3a4" stroke="#74885a" stroke-width="0.5"/>
<circle cx="365.0" cy="300.8" r="3.6" fill="url(#sph)"/>
<circle cx="345.8" cy="315.0" r="3.6" fill="url(#sph)"/>
<circle cx="361.3" cy="319.7" r="3.8" fill="url(#sphb)"/>
<circle cx="381.3" cy="316.7" r="4.6" fill="url(#sph)"/>
<circle cx="362.0" cy="333.0" r="3.8" fill="url(#sph)"/>
<path d="M530.8 304.2C539.5 301.2 545.7 300.0 555.7 297.9L555.7 308.6C545.7 310.7 539.5 311.9 530.8 314.9Z M555.7 295.5C563.7 292.5 569.4 291.3 578.6 289.2L578.6 299.9C569.4 302.0 563.7 303.2 555.7 306.2Z" fill="#92c2e2" transform="translate(0.8,2.4)"/>
<path d="M530.8 304.2C539.5 301.2 545.7 300.0 555.7 297.9L555.7 308.6C545.7 310.7 539.5 311.9 530.8 314.9Z" fill="#9fba9c" stroke="#74885a" stroke-width="0.5"/>
<path d="M555.7 295.5C563.7 292.5 569.4 291.3 578.6 289.2L578.6 299.9C569.4 302.0 563.7 303.2 555.7 306.2Z" fill="#a9c3a4" stroke="#74885a" stroke-width="0.5"/>
<path d="M533.1 314.4C541.6 311.4 547.7 310.3 557.5 308.2L557.5 318.9C547.7 321.1 541.6 322.1 533.1 325.1Z" fill="#9fba9c" stroke="#74885a" stroke-width="0.5"/>
<path d="M557.5 305.8C565.3 302.8 570.8 301.8 579.8 299.6L579.8 310.4C570.8 312.5 565.3 313.6 557.5 316.6Z" fill="#a9c3a4" stroke="#74885a" stroke-width="0.5"/>
<path d="M533.7 314.9C542.0 311.9 548.0 310.8 557.5 308.7L557.5 311.0C548.0 313.1 542.0 314.2 533.7 317.2Z M557.5 306.3C565.1 303.3 570.6 302.2 579.4 300.1L579.4 302.4C570.6 304.6 565.1 305.6 557.5 308.6Z" fill="#92c2e2" opacity="0.9"/>
<path d="M535.5 324.6C543.8 321.6 549.7 320.7 559.2 318.6L559.2 329.3C549.7 331.4 543.8 332.3 535.5 335.3Z" fill="#9fba9c" stroke="#74885a" stroke-width="0.5"/>
<path d="M559.2 316.2C566.8 313.2 572.2 312.2 580.9 310.1L580.9 320.8C572.2 322.9 566.8 323.9 559.2 326.9Z" fill="#a9c3a4" stroke="#74885a" stroke-width="0.5"/>
<path d="M536.1 325.1C544.2 322.1 549.9 321.2 559.2 319.1L559.2 321.4C549.9 323.5 544.2 324.4 536.1 327.4Z M559.2 316.7C566.7 313.7 572.0 312.7 580.5 310.6L580.5 312.9C572.0 315.0 566.7 316.0 559.2 319.0Z" fill="#92c2e2" opacity="0.9"/>
<path d="M537.8 334.8C545.9 331.8 551.7 331.0 561.0 328.9L561.0 339.6C551.7 341.7 545.9 342.5 537.8 345.5Z" fill="#9fba9c" stroke="#74885a" stroke-width="0.5"/>
<path d="M561.0 326.5C568.4 323.5 573.6 322.7 582.1 320.6L582.1 331.3C573.6 333.4 568.4 334.2 561.0 337.2Z" fill="#a9c3a4" stroke="#74885a" stroke-width="0.5"/>
<path d="M538.4 335.3C546.3 332.3 551.9 331.5 561.0 329.4L561.0 331.7C551.9 333.8 546.3 334.6 538.4 337.6Z M561.0 327.0C568.2 324.0 573.4 323.2 581.7 321.1L581.7 323.4C573.4 325.5 568.2 326.3 561.0 329.3Z" fill="#92c2e2" opacity="0.9"/>
<circle cx="555.3" cy="302.8" r="3.5" fill="url(#sph)"/>
<circle cx="535.8" cy="321.7" r="4.0" fill="url(#sph)"/>
<circle cx="555.3" cy="316.4" r="4.0" fill="url(#sphb)"/>
<circle cx="574.3" cy="310.0" r="4.5" fill="url(#sphb)"/>
<circle cx="555.3" cy="327.5" r="3.5" fill="url(#sph)"/>
<path d="M139.2 495.0C148.0 492.0 154.3 490.8 164.3 488.7L164.3 500.4C154.3 502.6 148.0 503.8 139.2 506.8Z M164.3 486.3C172.5 483.3 178.2 482.1 187.5 480.0L187.5 491.8C178.2 493.9 172.5 495.1 164.3 498.1Z" fill="#92c2e2" transform="translate(0.8,2.4)"/>
<path d="M139.2 495.0C148.0 492.0 154.3 490.8 164.3 488.7L164.3 500.4C154.3 502.6 148.0 503.8 139.2 506.8Z" fill="#9fba9c" stroke="#74885a" stroke-width="0.5"/>
<path d="M164.3 486.3C172.5 483.3 178.2 482.1 187.5 480.0L187.5 491.8C178.2 493.9 172.5 495.1 164.3 498.1Z" fill="#a9c3a4" stroke="#74885a" stroke-width="0.5"/>
<path d="M141.7 506.4C150.3 503.4 156.4 502.2 166.2 500.1L166.2 511.8C156.4 513.9 150.3 515.2 141.7 518.2Z" fill="#9fba9c" stroke="#74885a" stroke-width="0.5"/>
<path d="M166.2 497.7C174.1 494.7 179.8 493.4 188.8 491.2L188.8 503.0C179.8 505.1 174.1 506.4 166.2 509.4Z" fill="#a9c3a4" stroke="#74885a" stroke-width="0.5"/>
<path d="M142.3 506.9C150.7 503.9 156.7 502.7 166.2 500.6L166.2 502.9C156.7 505.0 150.7 506.2 142.3 509.2Z M166.2 498.2C174.0 495.2 179.5 493.9 188.4 491.8L188.4 494.1C179.5 496.2 174.0 497.5 166.2 500.5Z" fill="#92c2e2" opacity="0.9"/>
<path d="M144.2 517.9C152.6 514.9 158.6 513.5 168.1 511.4L168.1 523.1C158.6 525.2 152.6 526.6 144.2 529.6Z" fill="#9fba9c" stroke="#74885a" stroke-width="0.5"/>
<path d="M168.1 509.0C175.8 506.0 181.3 504.6 190.0 502.5L190.0 514.2C181.3 516.4 175.8 517.8 168.1 520.8Z" fill="#a9c3a4" stroke="#74885a" stroke-width="0.5"/>
<path d="M144.8 518.4C153.0 515.4 158.8 514.0 168.1 511.9L168.1 514.2C158.8 516.3 153.0 517.7 144.8 520.7Z M168.1 509.5C175.6 506.5 181.0 505.1 189.6 503.0L189.6 505.3C181.0 507.4 175.6 508.8 168.1 511.8Z" fill="#92c2e2" opacity="0.9"/>
<path d="M146.7 529.3C154.9 526.3 160.7 524.9 170.0 522.8L170.0 534.5C160.7 536.6 154.9 538.1 146.7 541.1Z" fill="#9fba9c" stroke="#74885a" stroke-width="0.5"/>
<path d="M170.0 520.3C177.5 517.3 182.8 515.9 191.3 513.8L191.3 525.5C182.8 527.6 177.5 529.1 170.0 532.1Z" fill="#a9c3a4" stroke="#74885a" stroke-width="0.5"/>
<path d="M147.3 529.8C155.2 526.8 160.9 525.4 170.0 523.2L170.0 525.5C160.9 527.6 155.2 529.1 147.3 532.1Z M170.0 520.8C177.3 517.8 182.5 516.4 190.9 514.2L190.9 516.5C182.5 518.6 177.3 520.1 170.0 523.1Z" fill="#92c2e2" opacity="0.9"/>
<circle cx="164.2" cy="494.7" r="3.5" fill="url(#sph)"/>
<circle cx="144.7" cy="515.3" r="4.0" fill="url(#sph)"/>
<circle cx="164.2" cy="509.2" r="4.0" fill="url(#sphb)"/>
<circle cx="183.0" cy="502.5" r="4.5" fill="url(#sphb)"/>
<circle cx="164.2" cy="521.7" r="3.5" fill="url(#sph)"/>
<path d="M335.8 498.7C344.9 495.7 351.4 496.8 361.8 494.7L361.8 505.3C351.4 507.4 344.9 506.3 335.8 509.3Z M361.8 492.3C370.2 489.3 376.2 490.4 385.8 488.3L385.8 498.9C376.2 501.0 370.2 499.9 361.8 502.9Z" fill="#92c2e2" transform="translate(0.8,2.4)"/>
<path d="M335.8 498.7C344.9 495.7 351.4 496.8 361.8 494.7L361.8 505.3C351.4 507.4 344.9 506.3 335.8 509.3Z" fill="#9fba9c" stroke="#74885a" stroke-width="0.5"/>
<path d="M361.8 492.3C370.2 489.3 376.2 490.4 385.8 488.3L385.8 498.9C376.2 501.0 370.2 499.9 361.8 502.9Z" fill="#a9c3a4" stroke="#74885a" stroke-width="0.5"/>
<path d="M337.5 508.8C346.3 505.8 352.7 507.0 362.8 504.9L362.8 515.5C352.7 517.6 346.3 516.4 337.5 519.4Z" fill="#9fba9c" stroke="#74885a" stroke-width="0.5"/>
<path d="M362.8 502.5C370.9 499.5 376.8 500.6 386.1 498.5L386.1 509.1C376.8 511.2 370.9 510.1 362.8 513.1Z" fill="#a9c3a4" stroke="#74885a" stroke-width="0.5"/>
<path d="M338.1 509.3C346.7 506.3 352.9 507.5 362.8 505.4L362.8 507.7C352.9 509.8 346.7 508.6 338.1 511.6Z M362.8 503.0C370.8 500.0 376.5 501.1 385.7 499.0L385.7 501.3C376.5 503.4 370.8 502.3 362.8 505.3Z" fill="#92c2e2" opacity="0.9"/>
<path d="M339.1 519.0C347.8 516.0 353.9 517.2 363.8 515.1L363.8 525.6C353.9 527.7 347.8 526.5 339.1 529.5Z" fill="#9fba9c" stroke="#74885a" stroke-width="0.5"/>
<path d="M363.8 512.6C371.7 509.6 377.3 510.9 386.4 508.8L386.4 519.3C377.3 521.4 371.7 520.2 363.8 523.2Z" fill="#a9c3a4" stroke="#74885a" stroke-width="0.5"/>
<path d="M339.7 519.5C348.1 516.5 354.2 517.7 363.8 515.6L363.8 517.9C354.2 520.0 348.1 518.8 339.7 521.8Z M363.8 513.1C371.5 510.1 377.1 511.4 386.0 509.2L386.0 511.6C377.1 513.6 371.5 512.4 363.8 515.4Z" fill="#92c2e2" opacity="0.9"/>
<path d="M340.8 529.1C349.2 526.1 355.2 527.3 364.8 525.2L364.8 535.8C355.2 537.9 349.2 536.7 340.8 539.7Z" fill="#9fba9c" stroke="#74885a" stroke-width="0.5"/>
<path d="M364.8 522.8C372.4 519.8 377.9 521.1 386.7 519.0L386.7 529.6C377.9 531.7 372.4 530.4 364.8 533.4Z" fill="#a9c3a4" stroke="#74885a" stroke-width="0.5"/>
<path d="M341.4 529.6C349.6 526.6 355.4 527.8 364.8 525.7L364.8 528.0C355.4 530.1 349.6 528.9 341.4 531.9Z M364.8 523.3C372.3 520.3 377.7 521.6 386.3 519.5L386.3 521.8C377.7 523.9 372.3 522.6 364.8 525.6Z" fill="#92c2e2" opacity="0.9"/>
<circle cx="361.3" cy="499.7" r="3.4" fill="url(#sph)"/>
<circle cx="340.5" cy="516.7" r="3.9" fill="url(#sph)"/>
<circle cx="360.0" cy="513.0" r="3.9" fill="url(#sphb)"/>
<circle cx="379.7" cy="508.7" r="4.4" fill="url(#sphb)"/>
<circle cx="359.2" cy="524.2" r="3.4" fill="url(#sph)"/>
<path d="M534.2 494.2C544.3 491.2 551.5 496.2 563.1 494.1L563.1 503.9C551.5 506.0 544.3 501.0 534.2 504.0Z M563.1 491.8C572.5 488.8 579.2 493.8 590.0 491.7L590.0 501.5C579.2 503.6 572.5 498.5 563.1 501.5Z" fill="#92c2e2" transform="translate(0.8,2.4)"/>
<path d="M534.2 494.2C544.3 491.2 551.5 496.2 563.1 494.1L563.1 503.9C551.5 506.0 544.3 501.0 534.2 504.0Z" fill="#9fba9c" stroke="#74885a" stroke-width="0.5"/>
<path d="M563.1 491.8C572.5 488.8 579.2 493.8 590.0 491.7L590.0 501.5C579.2 503.6 572.5 498.5 563.1 501.5Z" fill="#a9c3a4" stroke="#74885a" stroke-width="0.5"/>
<path d="M533.4 503.8C543.5 500.8 550.8 505.6 562.4 503.5L562.4 513.3C550.8 515.4 543.5 510.5 533.4 513.5Z" fill="#9fba9c" stroke="#74885a" stroke-width="0.5"/>
<path d="M562.4 501.1C571.9 498.1 578.6 502.9 589.4 500.8L589.4 510.6C578.6 512.7 571.9 507.9 562.4 510.9Z" fill="#a9c3a4" stroke="#74885a" stroke-width="0.5"/>
<path d="M534.0 504.3C543.9 501.3 551.0 506.1 562.4 504.0L562.4 506.3C551.0 508.4 543.9 503.6 534.0 506.6Z M562.4 501.6C571.7 498.6 578.4 503.4 589.0 501.3L589.0 503.6C578.4 505.8 571.7 500.9 562.4 503.9Z" fill="#92c2e2" opacity="0.9"/>
<path d="M532.5 513.4C542.7 510.4 550.0 515.0 561.7 512.9L561.7 522.6C550.0 524.7 542.7 520.1 532.5 523.1Z" fill="#9fba9c" stroke="#74885a" stroke-width="0.5"/>
<path d="M561.7 510.5C571.2 507.5 578.0 512.1 588.9 510.0L588.9 519.8C578.0 521.9 571.2 517.2 561.7 520.2Z" fill="#a9c3a4" stroke="#74885a" stroke-width="0.5"/>
<path d="M533.1 513.9C543.1 510.9 550.3 515.5 561.7 513.4L561.7 515.7C550.3 517.8 543.1 513.1 533.1 516.1Z M561.7 511.0C571.1 508.0 577.8 512.6 588.5 510.5L588.5 512.8C577.8 514.9 571.1 510.3 561.7 513.3Z" fill="#92c2e2" opacity="0.9"/>
<path d="M531.7 522.9C542.0 519.9 549.3 524.3 561.0 522.2L561.0 532.0C549.3 534.1 542.0 529.7 531.7 532.7Z" fill="#9fba9c" stroke="#74885a" stroke-width="0.5"/>
<path d="M561.0 519.8C570.6 516.8 577.4 521.2 588.3 519.1L588.3 528.9C577.4 531.0 570.6 526.6 561.0 529.6Z" fill="#a9c3a4" stroke="#74885a" stroke-width="0.5"/>
<path d="M532.3 523.4C542.3 520.4 549.5 524.8 561.0 522.7L561.0 525.0C549.5 527.1 542.3 522.7 532.3 525.7Z M561.0 520.3C570.4 517.3 577.1 521.8 587.9 519.6L587.9 521.9C577.1 524.0 570.4 519.6 561.0 522.6Z" fill="#92c2e2" opacity="0.9"/>
<circle cx="562.0" cy="498.3" r="3.4" fill="url(#sph)"/>
<circle cx="535.8" cy="510.5" r="3.9" fill="url(#sph)"/>
<circle cx="557.5" cy="510.8" r="3.9" fill="url(#sphb)"/>
<circle cx="579.7" cy="510.0" r="4.6" fill="url(#sphb)"/>
<circle cx="554.7" cy="520.8" r="3.4" fill="url(#sph)"/>
<text transform="translate(8.0,179.5) scale(1.000,1)" font-size="22.0" fill="#fff" text-anchor="start" >d</text>
<text transform="translate(211.5,178.0) scale(1.000,1)" font-size="22.0" fill="#fff" text-anchor="start" >e</text>
<text transform="translate(408.5,178.8) scale(1.000,1)" font-size="22.0" fill="#fff" text-anchor="start" >f</text>
<text transform="translate(8.0,373.0) scale(1.000,1)" font-size="22.0" fill="#fff" text-anchor="start" >g</text>
<text transform="translate(213.5,372.5) scale(1.000,1)" font-size="22.0" fill="#fff" text-anchor="start" >h</text>
<text transform="translate(408.0,372.5) scale(1.000,1)" font-size="22.0" fill="#fff" text-anchor="start" >i</text>
<text transform="translate(69.5,177.0) scale(1.070,1)" font-size="14.2" fill="#fff" text-anchor="start" >SST-35</text>
<text transform="translate(276.3,176.6) scale(1.070,1)" font-size="14.2" fill="#fff" text-anchor="start" >DST-35<tspan font-size="10.4" dy="2.4">0</tspan></text>
<text transform="translate(470.5,177.0) scale(1.070,1)" font-size="14.2" fill="#fff" text-anchor="start" >DST-140<tspan font-size="10.4" dy="2.4">0</tspan></text>
<text transform="translate(68.0,373.3) scale(1.070,1)" font-size="14.2" fill="#fff" text-anchor="start" >DST-140<tspan font-size="10.4" dy="2.4">0.2</tspan></text>
<text transform="translate(270.0,373.3) scale(1.070,1)" font-size="14.2" fill="#fff" text-anchor="start" >DST-140<tspan font-size="10.4" dy="2.4">0.4</tspan></text>
<text transform="translate(464.5,373.3) scale(1.070,1)" font-size="14.2" fill="#fff" text-anchor="start" >DST-140<tspan font-size="10.4" dy="2.4">0.8</tspan></text>
<text transform="translate(135.3,277.0) scale(1.070,1)" font-size="14.2" fill="#fff" text-anchor="start" ><tspan font-style="italic">f</tspan> = 0.01</text>
<text transform="translate(338.0,277.5) scale(1.070,1)" font-size="14.2" fill="#fff" text-anchor="start" ><tspan font-style="italic">f</tspan> = 0.48</text>
<text transform="translate(536.3,277.5) scale(1.070,1)" font-size="14.2" fill="#fff" text-anchor="start" ><tspan font-style="italic">f</tspan> = 0.51</text>
<text transform="translate(138.7,471.2) scale(1.070,1)" font-size="14.2" fill="#fff" text-anchor="start" ><tspan font-style="italic">f</tspan> = 0.54</text>
<text transform="translate(334.2,473.3) scale(1.070,1)" font-size="14.2" fill="#fff" text-anchor="start" ><tspan font-style="italic">f</tspan> = 0.56</text>
<text transform="translate(537.0,469.2) scale(1.070,1)" font-size="14.2" fill="#fff" text-anchor="start" ><tspan font-style="italic">f</tspan> = 0.63</text>
<text transform="translate(265.4,324.7) scale(1.000,1)" font-size="11.7" fill="#fff" text-anchor="start" >Fiber axis</text>
<path d="M264.3 336.0H319.7M315.5 332.0L319.7 336.0L315.5 340.0" fill="none" stroke="#fff" stroke-width="1.1"/>
<text transform="translate(73.3,515.5) scale(1.000,1)" font-size="11.7" fill="#fff" text-anchor="start" >Fiber axis</text>
<path d="M72.2 526.7H127.7M123.5 522.7L127.7 526.7L123.5 530.7" fill="none" stroke="#fff" stroke-width="1.1"/>
<text transform="translate(192.1,232.5) scale(1.000,1)" font-size="13.0" fill="#000" text-anchor="middle" >Extrusion induced</text>
<text transform="translate(192.0,247.5) scale(1.000,1)" font-size="13.0" fill="#000" text-anchor="middle" >orientation</text>
<path d="M160.0 255.0H230.0" stroke="#000" stroke-width="1.7" fill="none"/>
<path d="M240.0 255.0L225.0 250.4L225.0 259.6Z" fill="#000"/>
<text transform="translate(405.0,228.8) scale(1.000,1)" font-size="13.0" fill="#000" text-anchor="middle" >Concentration</text>
<text transform="translate(404.8,244.5) scale(1.000,1)" font-size="13.0" fill="#000" text-anchor="middle" >induced orientation</text>
<path d="M357.0 255.0H427.5" stroke="#000" stroke-width="1.7" fill="none"/>
<path d="M437.5 255.0L422.5 250.4L422.5 259.6Z" fill="#000"/>
<text transform="translate(197.9,424.5) scale(1.000,1)" font-size="13.0" fill="#000" text-anchor="middle" >Drawing induced</text>
<text transform="translate(197.2,440.0) scale(1.000,1)" font-size="13.0" fill="#000" text-anchor="middle" >orientation</text>
<path d="M166.3 447.0H236.3" stroke="#000" stroke-width="1.7" fill="none"/>
<path d="M246.3 447.0L231.3 442.4L231.3 451.6Z" fill="#000"/>
<text transform="translate(395.2,425.0) scale(1.000,1)" font-size="13.0" fill="#000" text-anchor="middle" >Drawing induced</text>
<text transform="translate(395.0,440.5) scale(1.000,1)" font-size="13.0" fill="#000" text-anchor="middle" >orientation</text>
<path d="M363.0 447.0H433.8" stroke="#000" stroke-width="1.7" fill="none"/>
<path d="M443.8 447.0L428.8 442.4L428.8 451.6Z" fill="#000"/>
<clipPath id="cpj"><rect x="30.5" y="550" width="255" height="188"/></clipPath>
<clipPath id="cpk"><rect x="333.8" y="549" width="255" height="187"/></clipPath>
<rect x="30.5" y="550.2" width="255.0" height="187.5" fill="#fff" stroke="#000" stroke-width="2.6"/>
<path d="M30.5 737.7V744.2" stroke="#000" stroke-width="2.4"/>
<text transform="translate(32.5,757.3) scale(1.065,1)" font-size="13.9" text-anchor="middle" fill="#000">-90</text>
<path d="M73.0 737.7V744.2" stroke="#000" stroke-width="2.4"/>
<text transform="translate(73.0,757.3) scale(1.065,1)" font-size="13.9" text-anchor="middle" fill="#000">-60</text>
<path d="M115.5 737.7V744.2" stroke="#000" stroke-width="2.4"/>
<text transform="translate(115.5,757.3) scale(1.065,1)" font-size="13.9" text-anchor="middle" fill="#000">-30</text>
<path d="M158.0 737.7V744.2" stroke="#000" stroke-width="2.4"/>
<text transform="translate(158.0,757.3) scale(1.065,1)" font-size="13.9" text-anchor="middle" fill="#000">0</text>
<path d="M200.5 737.7V744.2" stroke="#000" stroke-width="2.4"/>
<text transform="translate(200.5,757.3) scale(1.065,1)" font-size="13.9" text-anchor="middle" fill="#000">30</text>
<path d="M243.0 737.7V744.2" stroke="#000" stroke-width="2.4"/>
<text transform="translate(243.0,757.3) scale(1.065,1)" font-size="13.9" text-anchor="middle" fill="#000">60</text>
<path d="M285.5 737.7V744.2" stroke="#000" stroke-width="2.4"/>
<text transform="translate(285.5,757.3) scale(1.065,1)" font-size="13.9" text-anchor="middle" fill="#000">90</text>
<g clip-path="url(#cpj)">
<path d="M30.7 620.1C32.3 619.8 36.2 618.7 40.4 618.1C44.6 617.5 50.8 616.7 55.9 616.5C61.0 616.3 65.7 617.2 71.3 616.8C76.9 616.4 84.1 615.1 89.3 614.0C94.5 612.9 97.9 611.9 102.2 610.4C106.5 608.9 111.2 607.2 115.1 604.7C119.0 602.2 122.0 598.7 125.4 595.2C128.8 591.7 132.3 586.8 135.7 583.6C139.1 580.4 142.5 577.8 145.9 575.9C149.3 574.0 153.2 573.2 156.2 572.2C159.2 571.2 161.0 570.7 164.0 570.2C167.0 569.7 171.5 569.1 174.3 569.2C177.1 569.3 178.3 569.4 180.7 570.7C183.1 572.0 185.7 574.4 188.5 577.2C191.3 580.0 194.5 584.1 197.5 587.5C200.5 590.9 203.3 594.6 206.5 597.8C209.7 601.0 213.0 604.4 216.8 606.8C220.7 609.2 225.3 611.1 229.6 612.4C233.9 613.7 238.2 614.1 242.5 614.5C246.8 614.9 252.4 615.0 255.4 615.0C258.4 615.0 258.4 614.1 260.5 614.5C262.6 614.9 265.2 616.3 268.2 617.1C271.2 617.9 275.7 618.8 278.5 619.1C281.3 619.4 283.9 619.1 285.0 619.1" fill="none" stroke="#ff0000" stroke-width="2.6" stroke-linejoin="round" stroke-linecap="butt"/>
<path d="M30.7 666.0C32.3 665.4 36.6 663.2 40.4 662.1C44.2 661.0 49.0 660.0 53.3 659.5C57.6 659.0 62.3 659.2 66.2 659.0C70.1 658.8 72.2 659.2 76.5 658.2C80.8 657.2 87.2 654.6 91.9 653.1C96.6 651.6 100.5 650.8 104.8 649.5C109.1 648.2 113.8 646.9 117.6 645.4C121.4 643.9 124.9 641.9 127.9 640.7C130.9 639.5 132.7 638.6 135.7 638.2C138.7 637.8 142.5 638.2 145.9 638.4C149.3 638.6 153.0 639.1 156.2 639.4C159.4 639.7 162.1 640.1 165.3 640.2C168.5 640.3 172.6 639.6 175.6 640.2C178.6 640.9 179.9 642.5 183.3 644.1C186.7 645.7 191.9 648.2 196.2 650.0C200.5 651.8 204.7 653.6 209.0 655.1C213.3 656.6 217.2 658.0 221.9 659.0C226.6 660.0 231.7 660.6 237.3 661.3C242.9 661.9 251.5 662.7 255.4 662.9C259.3 663.1 257.9 662.1 260.5 662.3C263.1 662.5 266.7 663.5 270.8 663.9C274.9 664.2 282.6 664.3 285.0 664.4" fill="none" stroke="#0000ff" stroke-width="2.6" stroke-linejoin="round" stroke-linecap="butt"/>
<path d="M30.7 703.3C32.1 702.6 36.3 700.2 39.2 699.4C42.1 698.6 45.2 698.5 48.2 698.4C51.2 698.3 54.6 698.4 57.2 698.9C59.8 699.4 61.2 699.9 63.6 701.2C66.0 702.5 68.7 705.0 71.3 706.6C73.9 708.2 76.6 709.6 79.0 711.0C81.4 712.4 82.5 713.8 85.5 714.8C88.5 715.8 92.9 716.6 97.0 716.9C101.1 717.2 106.2 717.1 109.9 716.6C113.6 716.1 116.1 714.7 118.9 714.1C121.7 713.5 124.4 713.1 126.6 713.3C128.8 713.5 129.9 713.8 131.8 715.4C133.7 717.0 135.6 720.2 138.2 722.6C140.8 725.0 144.6 728.4 147.2 729.5C149.8 730.6 151.5 730.0 153.7 729.3C155.8 728.6 158.2 726.6 160.1 725.1C162.0 723.6 163.3 722.2 165.0 720.5C166.7 718.8 168.2 716.5 170.4 714.8C172.6 713.1 175.2 711.8 178.2 710.5C181.2 709.2 185.1 708.5 188.5 707.1C191.9 705.7 194.8 703.4 198.7 702.0C202.5 700.6 206.9 699.6 211.6 698.6C216.3 697.6 222.4 697.0 227.1 696.1C231.8 695.2 236.5 694.0 239.9 693.0C243.3 692.0 245.2 691.0 247.6 690.4C250.0 689.8 251.9 689.4 254.1 689.6C256.2 689.8 258.1 690.6 260.5 691.7C262.9 692.8 265.6 695.2 268.2 696.1C270.8 697.0 273.8 697.3 275.9 697.3C278.0 697.3 279.6 697.0 281.1 696.3C282.6 695.6 284.4 693.5 285.0 693.0" fill="none" stroke="#000" stroke-width="2.6" stroke-linejoin="round" stroke-linecap="butt"/>
</g>
<rect x="333.8" y="549.2" width="255.0" height="186.4" fill="#fff" stroke="#000" stroke-width="2.6"/>
<path d="M333.8 735.6V742.1" stroke="#000" stroke-width="2.4"/>
<text transform="translate(335.8,755.2) scale(1.065,1)" font-size="13.9" text-anchor="middle" fill="#000">-90</text>
<path d="M376.3 735.6V742.1" stroke="#000" stroke-width="2.4"/>
<text transform="translate(376.3,755.2) scale(1.065,1)" font-size="13.9" text-anchor="middle" fill="#000">-60</text>
<path d="M418.8 735.6V742.1" stroke="#000" stroke-width="2.4"/>
<text transform="translate(418.8,755.2) scale(1.065,1)" font-size="13.9" text-anchor="middle" fill="#000">-30</text>
<path d="M461.3 735.6V742.1" stroke="#000" stroke-width="2.4"/>
<text transform="translate(461.3,755.2) scale(1.065,1)" font-size="13.9" text-anchor="middle" fill="#000">0</text>
<path d="M503.8 735.6V742.1" stroke="#000" stroke-width="2.4"/>
<text transform="translate(503.8,755.2) scale(1.065,1)" font-size="13.9" text-anchor="middle" fill="#000">30</text>
<path d="M546.3 735.6V742.1" stroke="#000" stroke-width="2.4"/>
<text transform="translate(546.3,755.2) scale(1.065,1)" font-size="13.9" text-anchor="middle" fill="#000">60</text>
<path d="M588.8 735.6V742.1" stroke="#000" stroke-width="2.4"/>
<text transform="translate(588.8,755.2) scale(1.065,1)" font-size="13.9" text-anchor="middle" fill="#000">90</text>
<g clip-path="url(#cpk)">
<path d="M334.3 640.5C336.1 640.1 341.1 638.8 344.8 638.1C348.5 637.5 352.2 636.8 356.7 636.6C361.2 636.4 366.6 637.4 371.6 636.9C376.6 636.4 381.6 635.6 386.6 633.7C391.6 631.8 397.0 628.8 401.5 625.6C406.0 622.4 409.9 618.3 413.4 614.3C416.9 610.3 419.4 606.8 422.4 601.7C425.4 596.6 428.3 589.6 431.3 583.8C434.3 578.0 437.6 571.4 440.3 567.0C443.0 562.6 444.8 559.5 447.5 557.2C450.2 554.9 453.4 553.8 456.4 553.4C459.4 553.0 462.7 553.6 465.4 554.9C468.1 556.2 470.1 557.8 472.8 561.4C475.5 565.0 478.8 570.6 481.8 576.3C484.8 582.0 487.7 589.7 490.7 595.7C493.7 601.7 496.7 607.6 499.7 612.2C502.7 616.8 505.2 620.0 508.7 623.2C512.2 626.4 516.1 629.6 520.6 631.6C525.1 633.6 530.5 634.5 535.5 635.4C540.5 636.3 545.9 636.8 550.4 636.9C554.9 637.0 558.4 636.1 562.4 636.3C566.4 636.5 570.1 637.6 574.3 638.1C578.5 638.6 585.5 638.9 587.8 639.0" fill="none" stroke="#ff0000" stroke-width="2.6" stroke-linejoin="round" stroke-linecap="butt"/>
<path d="M334.3 693.4C336.1 692.5 341.1 689.8 344.8 688.3C348.5 686.8 353.7 685.0 356.7 684.1C359.7 683.2 360.5 683.2 362.7 683.2C364.9 683.2 366.6 684.2 370.1 684.1C373.6 684.0 378.9 683.5 383.6 682.3C388.3 681.1 393.8 679.6 398.5 676.9C403.2 674.2 407.9 670.5 411.9 665.9C415.9 661.3 419.2 655.7 422.4 649.5C425.6 643.3 428.6 635.1 431.3 628.6C434.0 622.1 436.6 615.2 438.8 610.7C441.1 606.2 442.2 604.2 444.8 601.7C447.4 599.2 451.1 596.2 454.3 595.7C457.5 595.2 460.8 596.7 463.9 598.7C467.0 600.7 469.8 604.2 472.8 607.7C475.8 611.2 478.8 615.1 481.8 619.6C484.8 624.1 487.7 629.1 490.7 634.6C493.7 640.1 496.7 647.3 499.7 652.5C502.7 657.7 505.2 661.9 508.7 665.9C512.2 669.9 516.1 673.6 520.6 676.3C525.1 679.0 530.5 681.0 535.5 682.3C540.5 683.6 546.2 684.0 550.4 684.1C554.6 684.2 557.4 682.8 560.9 683.2C564.4 683.7 568.1 685.9 571.3 686.8C574.5 687.7 577.3 688.3 580.3 688.6C583.3 688.9 587.8 688.6 589.3 688.6" fill="none" stroke="#0000ff" stroke-width="2.6" stroke-linejoin="round" stroke-linecap="butt"/>
<path d="M334.3 735.1C336.1 734.4 341.1 732.0 344.8 730.7C348.5 729.4 353.0 728.1 356.7 727.1C360.4 726.1 364.2 725.1 367.2 724.7C370.2 724.3 371.4 725.2 374.6 724.7C377.8 724.2 383.1 723.1 386.6 721.7C390.1 720.4 392.3 718.7 395.5 716.6C398.7 714.5 402.8 712.4 406.0 709.2C409.2 706.0 411.7 702.4 414.9 697.2C418.1 692.0 421.9 683.3 425.4 677.8C428.9 672.3 432.3 668.1 435.8 664.4C439.3 660.7 443.1 657.7 446.3 655.4C449.5 653.1 452.8 651.4 455.2 650.4C457.6 649.4 458.0 648.9 460.9 649.5C463.8 650.1 468.8 651.8 472.8 654.0C476.8 656.2 481.3 659.2 484.8 662.9C488.3 666.6 490.7 671.1 493.7 676.3C496.7 681.5 499.7 689.1 502.7 694.3C505.7 699.5 508.1 703.7 511.6 707.7C515.1 711.7 519.1 715.5 523.6 718.1C528.1 720.7 533.3 722.4 538.5 723.5C543.7 724.6 550.4 724.0 554.9 724.7C559.4 725.4 561.7 726.7 565.4 727.7C569.1 728.8 573.6 730.4 577.3 731.0C581.0 731.6 586.0 731.2 587.8 731.3" fill="none" stroke="#000" stroke-width="2.6" stroke-linejoin="round" stroke-linecap="butt"/>
</g>
<rect x="30.5" y="550.2" width="255" height="187.5" fill="none" stroke="#000" stroke-width="2.6"/>
<rect x="333.8" y="549.2" width="255" height="186.4" fill="none" stroke="#000" stroke-width="2.6"/>
<text transform="translate(214.6,595.9) scale(1.060,1)" font-size="14.6" fill="#000" text-anchor="start" >DST-140<tspan font-size="10.6" dy="2.3">0</tspan></text>
<text transform="translate(220.6,644.0) scale(1.060,1)" font-size="14.6" fill="#000" text-anchor="start" >DST-35<tspan font-size="10.6" dy="2.3">0</tspan></text>
<text transform="translate(224.0,687.0) scale(1.060,1)" font-size="14.6" fill="#000" text-anchor="start" >SST-35</text>
<text transform="translate(509.3,613.0) scale(1.060,1)" font-size="14.6" fill="#000" text-anchor="start" >DST-140<tspan font-size="10.6" dy="2.3">0.8</tspan></text>
<text transform="translate(509.3,660.0) scale(1.060,1)" font-size="14.6" fill="#000" text-anchor="start" >DST-140<tspan font-size="10.6" dy="2.3">0.4</tspan></text>
<text transform="translate(511.6,701.7) scale(1.060,1)" font-size="14.6" fill="#000" text-anchor="start" >DST-140<tspan font-size="10.6" dy="2.3">0.2</tspan></text>
<text transform="translate(8.2,563.2) scale(1.100,1)" font-size="23.0" fill="#000" text-anchor="start" >j</text>
<text transform="translate(306.8,565.9) scale(1.040,1)" font-size="22.6" fill="#000" text-anchor="start" >k</text>
<text transform="translate(19.4,640.4) rotate(-90) scale(1.06,1)" font-size="17.4" text-anchor="middle" fill="#000">Intensity (a.u.)</text>
<text transform="translate(322.8,645.0) rotate(-90) scale(1.06,1)" font-size="17.4" text-anchor="middle" fill="#000">Intensity (a.u.)</text>
<text transform="translate(157.5,772.0) scale(1.060,1)" font-size="17.0" fill="#000" text-anchor="middle" ><tspan font-style="italic" font-size="18">ϕ</tspan><tspan font-weight="normal"> (°)</tspan></text>
<text transform="translate(466.0,770.6) scale(1.060,1)" font-size="17.0" fill="#000" text-anchor="middle" ><tspan font-style="italic" font-size="18">ϕ</tspan><tspan font-weight="bold"> (°)</tspan></text>
</svg>
</body></html>
